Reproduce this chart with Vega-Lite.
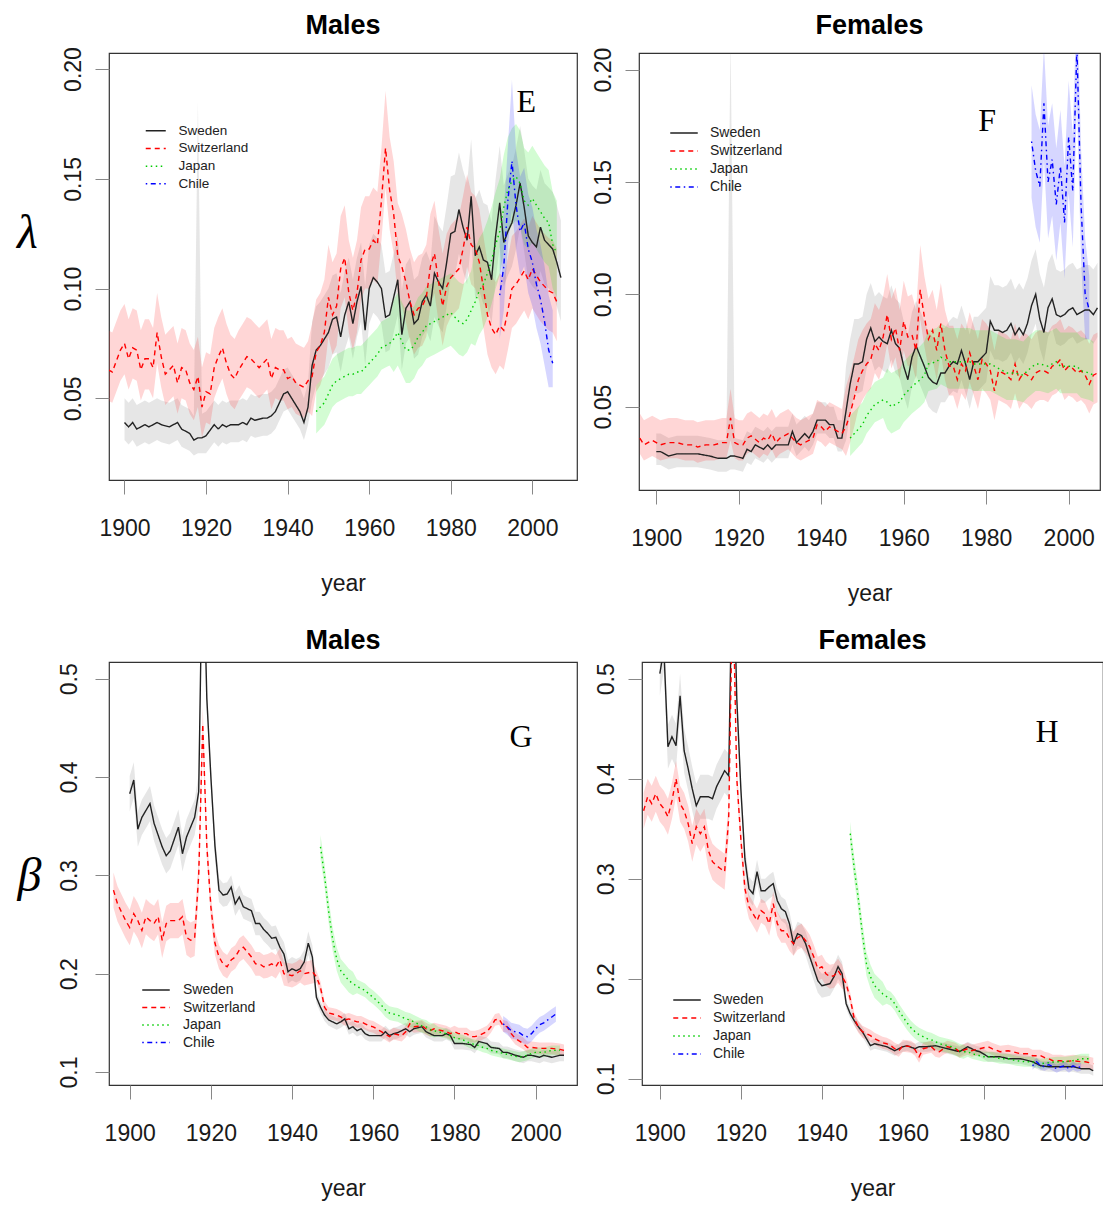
{
"$schema": "https://vega.github.io/schema/vega-lite/v6.json",
"padding": {"left": 16, "top": 11, "right": 0, "bottom": 0},
"background": "white",
"config": {
 "view": {"stroke": "#333333", "strokeWidth": 1.2},
 "font": "Liberation Sans",
 "axis": {"grid": false, "domain": false, "tickColor": "#888888", "tickSize": 14, "tickWidth": 1, "labelFont": "Liberation Sans", "labelFontSize": 23, "labelColor": "#1a1a1a", "titleFont": "Liberation Sans", "titleFontSize": 23, "titleFontWeight": "normal", "titleColor": "#1a1a1a", "labelFlush": false, "labelOverlap": false},
 "title": {"fontSize": 27, "font": "Liberation Sans", "fontWeight": "bold", "color": "black", "frame": "group", "anchor": "middle", "offset": 7},
 "legend": {"symbolFillColor": "transparent", "labelFont": "Liberation Sans", "labelColor": "#222222", "padding": 0}
},
"datasets": {
"E": [
{"c":"Sweden","t":1900,"v":0.039,"l":0.031,"h":0.050},{"c":"Sweden","t":1901,"v":0.037,"l":0.029,"h":0.048},{"c":"Sweden","t":1902,"v":0.039,"l":0.031,"h":0.050},{"c":"Sweden","t":1903,"v":0.036,"l":0.028,"h":0.047},{"c":"Sweden","t":1904,"v":0.037,"l":0.029,"h":0.048},{"c":"Sweden","t":1905,"v":0.038,"l":0.030,"h":0.049},{"c":"Sweden","t":1906,"v":0.037,"l":0.029,"h":0.048},{"c":"Sweden","t":1908,"v":0.039,"l":0.031,"h":0.050},{"c":"Sweden","t":1909,"v":0.038,"l":0.030,"h":0.049},{"c":"Sweden","t":1911,"v":0.037,"l":0.029,"h":0.048},{"c":"Sweden","t":1913,"v":0.039,"l":0.031,"h":0.050},{"c":"Sweden","t":1914,"v":0.036,"l":0.028,"h":0.047},{"c":"Sweden","t":1916,"v":0.034,"l":0.026,"h":0.045},{"c":"Sweden","t":1917,"v":0.031,"l":0.024,"h":0.042},{"c":"Sweden","t":1918,"v":0.032,"l":0.025,"h":0.185},{"c":"Sweden","t":1919,"v":0.032,"l":0.025,"h":0.043},{"c":"Sweden","t":1920,"v":0.033,"l":0.025,"h":0.044},{"c":"Sweden","t":1922,"v":0.038,"l":0.030,"h":0.049},{"c":"Sweden","t":1923,"v":0.036,"l":0.028,"h":0.047},{"c":"Sweden","t":1924,"v":0.038,"l":0.030,"h":0.049},{"c":"Sweden","t":1925,"v":0.037,"l":0.029,"h":0.048},{"c":"Sweden","t":1926,"v":0.038,"l":0.030,"h":0.049},{"c":"Sweden","t":1928,"v":0.038,"l":0.030,"h":0.049},{"c":"Sweden","t":1929,"v":0.039,"l":0.031,"h":0.050},{"c":"Sweden","t":1930,"v":0.038,"l":0.030,"h":0.049},{"c":"Sweden","t":1931,"v":0.041,"l":0.033,"h":0.052},{"c":"Sweden","t":1932,"v":0.040,"l":0.032,"h":0.051},{"c":"Sweden","t":1934,"v":0.041,"l":0.033,"h":0.052},{"c":"Sweden","t":1935,"v":0.041,"l":0.033,"h":0.052},{"c":"Sweden","t":1936,"v":0.042,"l":0.034,"h":0.053},{"c":"Sweden","t":1937,"v":0.044,"l":0.036,"h":0.055},{"c":"Sweden","t":1939,"v":0.052,"l":0.044,"h":0.063},{"c":"Sweden","t":1940,"v":0.053,"l":0.045,"h":0.064},{"c":"Sweden","t":1941,"v":0.050,"l":0.042,"h":0.061},{"c":"Sweden","t":1942,"v":0.047,"l":0.039,"h":0.058},{"c":"Sweden","t":1943,"v":0.044,"l":0.036,"h":0.055},{"c":"Sweden","t":1944,"v":0.039,"l":0.031,"h":0.050},{"c":"Sweden","t":1945,"v":0.046,"l":0.038,"h":0.057},{"c":"Sweden","t":1946,"v":0.065,"l":0.049,"h":0.085},{"c":"Sweden","t":1947,"v":0.072,"l":0.056,"h":0.092},{"c":"Sweden","t":1948,"v":0.074,"l":0.058,"h":0.094},{"c":"Sweden","t":1949,"v":0.077,"l":0.061,"h":0.097},{"c":"Sweden","t":1950,"v":0.080,"l":0.064,"h":0.100},{"c":"Sweden","t":1951,"v":0.086,"l":0.070,"h":0.106},{"c":"Sweden","t":1952,"v":0.087,"l":0.071,"h":0.107},{"c":"Sweden","t":1953,"v":0.078,"l":0.062,"h":0.098},{"c":"Sweden","t":1954,"v":0.088,"l":0.072,"h":0.108},{"c":"Sweden","t":1955,"v":0.094,"l":0.078,"h":0.114},{"c":"Sweden","t":1956,"v":0.084,"l":0.068,"h":0.104},{"c":"Sweden","t":1957,"v":0.094,"l":0.078,"h":0.114},{"c":"Sweden","t":1958,"v":0.101,"l":0.085,"h":0.121},{"c":"Sweden","t":1959,"v":0.081,"l":0.065,"h":0.101},{"c":"Sweden","t":1960,"v":0.100,"l":0.084,"h":0.120},{"c":"Sweden","t":1961,"v":0.105,"l":0.089,"h":0.125},{"c":"Sweden","t":1962,"v":0.103,"l":0.087,"h":0.123},{"c":"Sweden","t":1963,"v":0.100,"l":0.084,"h":0.120},{"c":"Sweden","t":1964,"v":0.087,"l":0.071,"h":0.107},{"c":"Sweden","t":1965,"v":0.088,"l":0.072,"h":0.108},{"c":"Sweden","t":1966,"v":0.096,"l":0.080,"h":0.116},{"c":"Sweden","t":1967,"v":0.104,"l":0.088,"h":0.124},{"c":"Sweden","t":1968,"v":0.079,"l":0.063,"h":0.099},{"c":"Sweden","t":1969,"v":0.091,"l":0.075,"h":0.111},{"c":"Sweden","t":1970,"v":0.094,"l":0.078,"h":0.114},{"c":"Sweden","t":1971,"v":0.084,"l":0.068,"h":0.104},{"c":"Sweden","t":1972,"v":0.086,"l":0.070,"h":0.106},{"c":"Sweden","t":1973,"v":0.094,"l":0.078,"h":0.114},{"c":"Sweden","t":1974,"v":0.097,"l":0.081,"h":0.117},{"c":"Sweden","t":1975,"v":0.092,"l":0.076,"h":0.112},{"c":"Sweden","t":1976,"v":0.107,"l":0.087,"h":0.133},{"c":"Sweden","t":1977,"v":0.103,"l":0.083,"h":0.129},{"c":"Sweden","t":1978,"v":0.100,"l":0.080,"h":0.126},{"c":"Sweden","t":1979,"v":0.112,"l":0.092,"h":0.138},{"c":"Sweden","t":1980,"v":0.125,"l":0.105,"h":0.151},{"c":"Sweden","t":1981,"v":0.126,"l":0.106,"h":0.152},{"c":"Sweden","t":1982,"v":0.136,"l":0.116,"h":0.162},{"c":"Sweden","t":1983,"v":0.128,"l":0.108,"h":0.154},{"c":"Sweden","t":1984,"v":0.122,"l":0.102,"h":0.148},{"c":"Sweden","t":1985,"v":0.142,"l":0.122,"h":0.168},{"c":"Sweden","t":1986,"v":0.115,"l":0.095,"h":0.141},{"c":"Sweden","t":1987,"v":0.119,"l":0.099,"h":0.145},{"c":"Sweden","t":1988,"v":0.113,"l":0.093,"h":0.139},{"c":"Sweden","t":1989,"v":0.112,"l":0.092,"h":0.138},{"c":"Sweden","t":1990,"v":0.104,"l":0.084,"h":0.130},{"c":"Sweden","t":1991,"v":0.124,"l":0.104,"h":0.150},{"c":"Sweden","t":1992,"v":0.139,"l":0.119,"h":0.165},{"c":"Sweden","t":1993,"v":0.121,"l":0.101,"h":0.147},{"c":"Sweden","t":1994,"v":0.126,"l":0.106,"h":0.152},{"c":"Sweden","t":1995,"v":0.130,"l":0.110,"h":0.156},{"c":"Sweden","t":1996,"v":0.138,"l":0.118,"h":0.164},{"c":"Sweden","t":1997,"v":0.148,"l":0.128,"h":0.174},{"c":"Sweden","t":1998,"v":0.137,"l":0.117,"h":0.163},{"c":"Sweden","t":1999,"v":0.124,"l":0.104,"h":0.150},{"c":"Sweden","t":2000,"v":0.121,"l":0.101,"h":0.147},{"c":"Sweden","t":2001,"v":0.119,"l":0.099,"h":0.145},{"c":"Sweden","t":2002,"v":0.128,"l":0.108,"h":0.154},{"c":"Sweden","t":2003,"v":0.122,"l":0.102,"h":0.148},{"c":"Sweden","t":2004,"v":0.120,"l":0.100,"h":0.146},{"c":"Sweden","t":2005,"v":0.118,"l":0.098,"h":0.144},{"c":"Sweden","t":2006,"v":0.112,"l":0.092,"h":0.138},{"c":"Sweden","t":2007,"v":0.105,"l":0.085,"h":0.131},
{"c":"Switzerland","t":1896,"v":0.063,"l":0.049,"h":0.081},{"c":"Switzerland","t":1897,"v":0.062,"l":0.048,"h":0.080},{"c":"Switzerland","t":1898,"v":0.067,"l":0.053,"h":0.085},{"c":"Switzerland","t":1899,"v":0.072,"l":0.058,"h":0.090},{"c":"Switzerland","t":1900,"v":0.075,"l":0.061,"h":0.093},{"c":"Switzerland","t":1901,"v":0.068,"l":0.054,"h":0.086},{"c":"Switzerland","t":1902,"v":0.073,"l":0.059,"h":0.091},{"c":"Switzerland","t":1903,"v":0.072,"l":0.058,"h":0.090},{"c":"Switzerland","t":1904,"v":0.063,"l":0.049,"h":0.081},{"c":"Switzerland","t":1905,"v":0.068,"l":0.054,"h":0.086},{"c":"Switzerland","t":1906,"v":0.068,"l":0.054,"h":0.086},{"c":"Switzerland","t":1907,"v":0.064,"l":0.050,"h":0.082},{"c":"Switzerland","t":1908,"v":0.080,"l":0.066,"h":0.098},{"c":"Switzerland","t":1909,"v":0.069,"l":0.055,"h":0.087},{"c":"Switzerland","t":1910,"v":0.061,"l":0.047,"h":0.079},{"c":"Switzerland","t":1911,"v":0.063,"l":0.049,"h":0.081},{"c":"Switzerland","t":1912,"v":0.065,"l":0.051,"h":0.083},{"c":"Switzerland","t":1913,"v":0.057,"l":0.043,"h":0.075},{"c":"Switzerland","t":1914,"v":0.064,"l":0.050,"h":0.082},{"c":"Switzerland","t":1915,"v":0.063,"l":0.049,"h":0.081},{"c":"Switzerland","t":1916,"v":0.057,"l":0.043,"h":0.075},{"c":"Switzerland","t":1917,"v":0.054,"l":0.040,"h":0.072},{"c":"Switzerland","t":1918,"v":0.060,"l":0.046,"h":0.078},{"c":"Switzerland","t":1919,"v":0.046,"l":0.032,"h":0.064},{"c":"Switzerland","t":1920,"v":0.053,"l":0.039,"h":0.071},{"c":"Switzerland","t":1921,"v":0.052,"l":0.038,"h":0.070},{"c":"Switzerland","t":1922,"v":0.064,"l":0.050,"h":0.082},{"c":"Switzerland","t":1923,"v":0.069,"l":0.055,"h":0.087},{"c":"Switzerland","t":1924,"v":0.073,"l":0.059,"h":0.091},{"c":"Switzerland","t":1925,"v":0.066,"l":0.052,"h":0.084},{"c":"Switzerland","t":1926,"v":0.061,"l":0.047,"h":0.079},{"c":"Switzerland","t":1927,"v":0.059,"l":0.045,"h":0.077},{"c":"Switzerland","t":1928,"v":0.063,"l":0.049,"h":0.081},{"c":"Switzerland","t":1929,"v":0.066,"l":0.052,"h":0.084},{"c":"Switzerland","t":1930,"v":0.069,"l":0.055,"h":0.087},{"c":"Switzerland","t":1931,"v":0.068,"l":0.054,"h":0.086},{"c":"Switzerland","t":1932,"v":0.066,"l":0.052,"h":0.084},{"c":"Switzerland","t":1933,"v":0.064,"l":0.050,"h":0.082},{"c":"Switzerland","t":1934,"v":0.066,"l":0.052,"h":0.084},{"c":"Switzerland","t":1935,"v":0.068,"l":0.054,"h":0.086},{"c":"Switzerland","t":1936,"v":0.059,"l":0.045,"h":0.077},{"c":"Switzerland","t":1937,"v":0.064,"l":0.050,"h":0.082},{"c":"Switzerland","t":1938,"v":0.063,"l":0.049,"h":0.081},{"c":"Switzerland","t":1939,"v":0.063,"l":0.049,"h":0.081},{"c":"Switzerland","t":1940,"v":0.059,"l":0.045,"h":0.077},{"c":"Switzerland","t":1941,"v":0.060,"l":0.046,"h":0.078},{"c":"Switzerland","t":1942,"v":0.057,"l":0.043,"h":0.075},{"c":"Switzerland","t":1943,"v":0.056,"l":0.042,"h":0.074},{"c":"Switzerland","t":1944,"v":0.055,"l":0.041,"h":0.073},{"c":"Switzerland","t":1945,"v":0.058,"l":0.044,"h":0.076},{"c":"Switzerland","t":1946,"v":0.060,"l":0.042,"h":0.084},{"c":"Switzerland","t":1947,"v":0.071,"l":0.053,"h":0.095},{"c":"Switzerland","t":1948,"v":0.074,"l":0.056,"h":0.098},{"c":"Switzerland","t":1949,"v":0.080,"l":0.062,"h":0.104},{"c":"Switzerland","t":1950,"v":0.096,"l":0.078,"h":0.120},{"c":"Switzerland","t":1951,"v":0.088,"l":0.070,"h":0.112},{"c":"Switzerland","t":1952,"v":0.092,"l":0.074,"h":0.116},{"c":"Switzerland","t":1953,"v":0.109,"l":0.091,"h":0.133},{"c":"Switzerland","t":1954,"v":0.114,"l":0.096,"h":0.138},{"c":"Switzerland","t":1955,"v":0.098,"l":0.080,"h":0.122},{"c":"Switzerland","t":1956,"v":0.090,"l":0.072,"h":0.114},{"c":"Switzerland","t":1957,"v":0.098,"l":0.080,"h":0.122},{"c":"Switzerland","t":1958,"v":0.113,"l":0.095,"h":0.137},{"c":"Switzerland","t":1959,"v":0.118,"l":0.100,"h":0.142},{"c":"Switzerland","t":1960,"v":0.118,"l":0.100,"h":0.142},{"c":"Switzerland","t":1961,"v":0.122,"l":0.104,"h":0.146},{"c":"Switzerland","t":1962,"v":0.120,"l":0.102,"h":0.144},{"c":"Switzerland","t":1963,"v":0.140,"l":0.122,"h":0.164},{"c":"Switzerland","t":1964,"v":0.164,"l":0.146,"h":0.190},{"c":"Switzerland","t":1965,"v":0.145,"l":0.127,"h":0.169},{"c":"Switzerland","t":1966,"v":0.134,"l":0.116,"h":0.158},{"c":"Switzerland","t":1967,"v":0.115,"l":0.097,"h":0.139},{"c":"Switzerland","t":1968,"v":0.110,"l":0.092,"h":0.134},{"c":"Switzerland","t":1969,"v":0.103,"l":0.085,"h":0.127},{"c":"Switzerland","t":1970,"v":0.094,"l":0.076,"h":0.118},{"c":"Switzerland","t":1971,"v":0.088,"l":0.070,"h":0.112},{"c":"Switzerland","t":1972,"v":0.091,"l":0.073,"h":0.115},{"c":"Switzerland","t":1973,"v":0.092,"l":0.074,"h":0.116},{"c":"Switzerland","t":1974,"v":0.096,"l":0.078,"h":0.120},{"c":"Switzerland","t":1975,"v":0.110,"l":0.092,"h":0.134},{"c":"Switzerland","t":1976,"v":0.116,"l":0.098,"h":0.140},{"c":"Switzerland","t":1977,"v":0.103,"l":0.085,"h":0.127},{"c":"Switzerland","t":1978,"v":0.092,"l":0.074,"h":0.116},{"c":"Switzerland","t":1979,"v":0.101,"l":0.083,"h":0.125},{"c":"Switzerland","t":1980,"v":0.105,"l":0.087,"h":0.129},{"c":"Switzerland","t":1981,"v":0.107,"l":0.089,"h":0.131},{"c":"Switzerland","t":1982,"v":0.109,"l":0.091,"h":0.133},{"c":"Switzerland","t":1983,"v":0.118,"l":0.100,"h":0.142},{"c":"Switzerland","t":1984,"v":0.128,"l":0.110,"h":0.152},{"c":"Switzerland","t":1985,"v":0.120,"l":0.102,"h":0.144},{"c":"Switzerland","t":1986,"v":0.118,"l":0.100,"h":0.142},{"c":"Switzerland","t":1987,"v":0.112,"l":0.094,"h":0.136},{"c":"Switzerland","t":1988,"v":0.100,"l":0.082,"h":0.124},{"c":"Switzerland","t":1989,"v":0.088,"l":0.070,"h":0.112},{"c":"Switzerland","t":1990,"v":0.082,"l":0.064,"h":0.106},{"c":"Switzerland","t":1991,"v":0.079,"l":0.061,"h":0.103},{"c":"Switzerland","t":1992,"v":0.083,"l":0.065,"h":0.107},{"c":"Switzerland","t":1993,"v":0.081,"l":0.063,"h":0.105},{"c":"Switzerland","t":1994,"v":0.090,"l":0.072,"h":0.114},{"c":"Switzerland","t":1995,"v":0.100,"l":0.082,"h":0.124},{"c":"Switzerland","t":1996,"v":0.102,"l":0.084,"h":0.126},{"c":"Switzerland","t":1997,"v":0.105,"l":0.087,"h":0.129},{"c":"Switzerland","t":1998,"v":0.108,"l":0.090,"h":0.132},{"c":"Switzerland","t":1999,"v":0.104,"l":0.086,"h":0.128},{"c":"Switzerland","t":2000,"v":0.109,"l":0.091,"h":0.133},{"c":"Switzerland","t":2001,"v":0.106,"l":0.088,"h":0.130},{"c":"Switzerland","t":2002,"v":0.103,"l":0.085,"h":0.127},{"c":"Switzerland","t":2003,"v":0.101,"l":0.083,"h":0.125},{"c":"Switzerland","t":2004,"v":0.099,"l":0.081,"h":0.123},{"c":"Switzerland","t":2005,"v":0.098,"l":0.080,"h":0.122},{"c":"Switzerland","t":2006,"v":0.094,"l":0.076,"h":0.118},
{"c":"Japan","t":1947,"v":0.044,"l":0.034,"h":0.056},{"c":"Japan","t":1948,"v":0.046,"l":0.036,"h":0.058},{"c":"Japan","t":1949,"v":0.048,"l":0.038,"h":0.060},{"c":"Japan","t":1950,"v":0.052,"l":0.042,"h":0.064},{"c":"Japan","t":1951,"v":0.056,"l":0.046,"h":0.068},{"c":"Japan","t":1952,"v":0.058,"l":0.048,"h":0.070},{"c":"Japan","t":1953,"v":0.059,"l":0.049,"h":0.071},{"c":"Japan","t":1954,"v":0.060,"l":0.050,"h":0.072},{"c":"Japan","t":1955,"v":0.061,"l":0.051,"h":0.073},{"c":"Japan","t":1956,"v":0.061,"l":0.051,"h":0.073},{"c":"Japan","t":1957,"v":0.062,"l":0.052,"h":0.074},{"c":"Japan","t":1958,"v":0.062,"l":0.052,"h":0.074},{"c":"Japan","t":1959,"v":0.064,"l":0.054,"h":0.076},{"c":"Japan","t":1960,"v":0.066,"l":0.056,"h":0.078},{"c":"Japan","t":1961,"v":0.068,"l":0.058,"h":0.080},{"c":"Japan","t":1962,"v":0.070,"l":0.060,"h":0.082},{"c":"Japan","t":1963,"v":0.073,"l":0.063,"h":0.085},{"c":"Japan","t":1964,"v":0.074,"l":0.064,"h":0.086},{"c":"Japan","t":1965,"v":0.075,"l":0.065,"h":0.087},{"c":"Japan","t":1966,"v":0.077,"l":0.062,"h":0.095},{"c":"Japan","t":1967,"v":0.080,"l":0.065,"h":0.098},{"c":"Japan","t":1968,"v":0.076,"l":0.061,"h":0.094},{"c":"Japan","t":1969,"v":0.072,"l":0.057,"h":0.090},{"c":"Japan","t":1970,"v":0.072,"l":0.057,"h":0.090},{"c":"Japan","t":1971,"v":0.074,"l":0.059,"h":0.092},{"c":"Japan","t":1972,"v":0.078,"l":0.063,"h":0.096},{"c":"Japan","t":1973,"v":0.080,"l":0.065,"h":0.098},{"c":"Japan","t":1974,"v":0.083,"l":0.068,"h":0.101},{"c":"Japan","t":1975,"v":0.084,"l":0.069,"h":0.102},{"c":"Japan","t":1976,"v":0.085,"l":0.070,"h":0.103},{"c":"Japan","t":1977,"v":0.086,"l":0.071,"h":0.104},{"c":"Japan","t":1978,"v":0.087,"l":0.072,"h":0.105},{"c":"Japan","t":1979,"v":0.088,"l":0.073,"h":0.106},{"c":"Japan","t":1980,"v":0.089,"l":0.074,"h":0.107},{"c":"Japan","t":1981,"v":0.087,"l":0.072,"h":0.105},{"c":"Japan","t":1982,"v":0.085,"l":0.070,"h":0.103},{"c":"Japan","t":1983,"v":0.084,"l":0.069,"h":0.102},{"c":"Japan","t":1984,"v":0.086,"l":0.071,"h":0.104},{"c":"Japan","t":1985,"v":0.090,"l":0.075,"h":0.108},{"c":"Japan","t":1986,"v":0.094,"l":0.074,"h":0.118},{"c":"Japan","t":1987,"v":0.099,"l":0.079,"h":0.123},{"c":"Japan","t":1988,"v":0.102,"l":0.082,"h":0.126},{"c":"Japan","t":1989,"v":0.107,"l":0.087,"h":0.131},{"c":"Japan","t":1990,"v":0.113,"l":0.093,"h":0.137},{"c":"Japan","t":1991,"v":0.120,"l":0.100,"h":0.144},{"c":"Japan","t":1992,"v":0.126,"l":0.106,"h":0.150},{"c":"Japan","t":1993,"v":0.137,"l":0.117,"h":0.161},{"c":"Japan","t":1994,"v":0.145,"l":0.125,"h":0.169},{"c":"Japan","t":1995,"v":0.149,"l":0.129,"h":0.173},{"c":"Japan","t":1996,"v":0.151,"l":0.131,"h":0.175},{"c":"Japan","t":1997,"v":0.148,"l":0.128,"h":0.172},{"c":"Japan","t":1998,"v":0.140,"l":0.120,"h":0.164},{"c":"Japan","t":1999,"v":0.138,"l":0.118,"h":0.162},{"c":"Japan","t":2000,"v":0.141,"l":0.121,"h":0.165},{"c":"Japan","t":2001,"v":0.138,"l":0.118,"h":0.162},{"c":"Japan","t":2002,"v":0.135,"l":0.115,"h":0.159},{"c":"Japan","t":2003,"v":0.132,"l":0.112,"h":0.156},{"c":"Japan","t":2004,"v":0.130,"l":0.110,"h":0.154},{"c":"Japan","t":2005,"v":0.120,"l":0.100,"h":0.144},{"c":"Japan","t":2006,"v":0.116,"l":0.096,"h":0.140},
{"c":"Chile","t":1992,"v":0.097,"l":0.077,"h":0.122},{"c":"Chile","t":1993,"v":0.110,"l":0.090,"h":0.135},{"c":"Chile","t":1994,"v":0.140,"l":0.120,"h":0.165},{"c":"Chile","t":1995,"v":0.158,"l":0.136,"h":0.195},{"c":"Chile","t":1996,"v":0.138,"l":0.118,"h":0.163},{"c":"Chile","t":1997,"v":0.126,"l":0.106,"h":0.151},{"c":"Chile","t":1998,"v":0.130,"l":0.110,"h":0.155},{"c":"Chile","t":1999,"v":0.118,"l":0.098,"h":0.143},{"c":"Chile","t":2000,"v":0.112,"l":0.092,"h":0.137},{"c":"Chile","t":2001,"v":0.102,"l":0.082,"h":0.127},{"c":"Chile","t":2002,"v":0.095,"l":0.075,"h":0.120},{"c":"Chile","t":2003,"v":0.085,"l":0.065,"h":0.110},{"c":"Chile","t":2004,"v":0.072,"l":0.055,"h":0.097},{"c":"Chile","t":2005,"v":0.066,"l":0.055,"h":0.090}
],
"F": [
{"c":"Sweden","t":1900,"v":0.030,"l":0.024,"h":0.038},{"c":"Sweden","t":1901,"v":0.030,"l":0.024,"h":0.038},{"c":"Sweden","t":1903,"v":0.028,"l":0.022,"h":0.036},{"c":"Sweden","t":1905,"v":0.029,"l":0.023,"h":0.037},{"c":"Sweden","t":1908,"v":0.029,"l":0.023,"h":0.037},{"c":"Sweden","t":1910,"v":0.029,"l":0.023,"h":0.037},{"c":"Sweden","t":1913,"v":0.028,"l":0.022,"h":0.036},{"c":"Sweden","t":1915,"v":0.027,"l":0.021,"h":0.035},{"c":"Sweden","t":1917,"v":0.027,"l":0.021,"h":0.035},{"c":"Sweden","t":1918,"v":0.028,"l":0.022,"h":0.215},{"c":"Sweden","t":1919,"v":0.028,"l":0.022,"h":0.036},{"c":"Sweden","t":1921,"v":0.027,"l":0.021,"h":0.035},{"c":"Sweden","t":1922,"v":0.031,"l":0.025,"h":0.039},{"c":"Sweden","t":1923,"v":0.030,"l":0.024,"h":0.038},{"c":"Sweden","t":1924,"v":0.033,"l":0.027,"h":0.041},{"c":"Sweden","t":1926,"v":0.031,"l":0.025,"h":0.039},{"c":"Sweden","t":1927,"v":0.033,"l":0.027,"h":0.041},{"c":"Sweden","t":1928,"v":0.031,"l":0.025,"h":0.039},{"c":"Sweden","t":1929,"v":0.033,"l":0.027,"h":0.041},{"c":"Sweden","t":1930,"v":0.033,"l":0.027,"h":0.041},{"c":"Sweden","t":1932,"v":0.033,"l":0.027,"h":0.041},{"c":"Sweden","t":1933,"v":0.039,"l":0.033,"h":0.047},{"c":"Sweden","t":1934,"v":0.034,"l":0.028,"h":0.042},{"c":"Sweden","t":1935,"v":0.036,"l":0.030,"h":0.044},{"c":"Sweden","t":1936,"v":0.038,"l":0.032,"h":0.046},{"c":"Sweden","t":1937,"v":0.036,"l":0.030,"h":0.044},{"c":"Sweden","t":1938,"v":0.039,"l":0.033,"h":0.047},{"c":"Sweden","t":1939,"v":0.044,"l":0.038,"h":0.052},{"c":"Sweden","t":1941,"v":0.044,"l":0.038,"h":0.052},{"c":"Sweden","t":1942,"v":0.042,"l":0.036,"h":0.050},{"c":"Sweden","t":1943,"v":0.042,"l":0.036,"h":0.050},{"c":"Sweden","t":1944,"v":0.036,"l":0.030,"h":0.044},{"c":"Sweden","t":1945,"v":0.036,"l":0.030,"h":0.044},{"c":"Sweden","t":1946,"v":0.048,"l":0.035,"h":0.068},{"c":"Sweden","t":1947,"v":0.060,"l":0.047,"h":0.080},{"c":"Sweden","t":1948,"v":0.069,"l":0.056,"h":0.089},{"c":"Sweden","t":1949,"v":0.069,"l":0.056,"h":0.089},{"c":"Sweden","t":1950,"v":0.070,"l":0.057,"h":0.090},{"c":"Sweden","t":1951,"v":0.080,"l":0.067,"h":0.100},{"c":"Sweden","t":1952,"v":0.085,"l":0.072,"h":0.105},{"c":"Sweden","t":1953,"v":0.079,"l":0.066,"h":0.099},{"c":"Sweden","t":1954,"v":0.081,"l":0.068,"h":0.101},{"c":"Sweden","t":1955,"v":0.079,"l":0.066,"h":0.099},{"c":"Sweden","t":1956,"v":0.078,"l":0.065,"h":0.098},{"c":"Sweden","t":1957,"v":0.084,"l":0.071,"h":0.104},{"c":"Sweden","t":1958,"v":0.078,"l":0.065,"h":0.098},{"c":"Sweden","t":1959,"v":0.076,"l":0.063,"h":0.096},{"c":"Sweden","t":1960,"v":0.068,"l":0.055,"h":0.088},{"c":"Sweden","t":1961,"v":0.062,"l":0.049,"h":0.082},{"c":"Sweden","t":1962,"v":0.072,"l":0.059,"h":0.092},{"c":"Sweden","t":1963,"v":0.077,"l":0.064,"h":0.097},{"c":"Sweden","t":1965,"v":0.068,"l":0.055,"h":0.088},{"c":"Sweden","t":1966,"v":0.063,"l":0.050,"h":0.083},{"c":"Sweden","t":1967,"v":0.061,"l":0.048,"h":0.081},{"c":"Sweden","t":1968,"v":0.060,"l":0.047,"h":0.080},{"c":"Sweden","t":1969,"v":0.065,"l":0.052,"h":0.085},{"c":"Sweden","t":1970,"v":0.065,"l":0.052,"h":0.085},{"c":"Sweden","t":1971,"v":0.068,"l":0.055,"h":0.088},{"c":"Sweden","t":1972,"v":0.070,"l":0.057,"h":0.090},{"c":"Sweden","t":1973,"v":0.069,"l":0.056,"h":0.089},{"c":"Sweden","t":1974,"v":0.075,"l":0.062,"h":0.095},{"c":"Sweden","t":1975,"v":0.069,"l":0.056,"h":0.089},{"c":"Sweden","t":1976,"v":0.062,"l":0.049,"h":0.082},{"c":"Sweden","t":1977,"v":0.070,"l":0.057,"h":0.090},{"c":"Sweden","t":1978,"v":0.070,"l":0.057,"h":0.090},{"c":"Sweden","t":1979,"v":0.072,"l":0.059,"h":0.092},{"c":"Sweden","t":1980,"v":0.074,"l":0.061,"h":0.094},{"c":"Sweden","t":1981,"v":0.088,"l":0.075,"h":0.108},{"c":"Sweden","t":1982,"v":0.084,"l":0.071,"h":0.104},{"c":"Sweden","t":1983,"v":0.084,"l":0.071,"h":0.104},{"c":"Sweden","t":1984,"v":0.083,"l":0.070,"h":0.103},{"c":"Sweden","t":1985,"v":0.084,"l":0.071,"h":0.104},{"c":"Sweden","t":1986,"v":0.087,"l":0.074,"h":0.107},{"c":"Sweden","t":1987,"v":0.082,"l":0.069,"h":0.102},{"c":"Sweden","t":1988,"v":0.085,"l":0.072,"h":0.105},{"c":"Sweden","t":1989,"v":0.082,"l":0.069,"h":0.102},{"c":"Sweden","t":1990,"v":0.087,"l":0.074,"h":0.107},{"c":"Sweden","t":1991,"v":0.095,"l":0.082,"h":0.115},{"c":"Sweden","t":1992,"v":0.100,"l":0.087,"h":0.120},{"c":"Sweden","t":1993,"v":0.089,"l":0.076,"h":0.109},{"c":"Sweden","t":1994,"v":0.083,"l":0.070,"h":0.103},{"c":"Sweden","t":1995,"v":0.094,"l":0.081,"h":0.114},{"c":"Sweden","t":1996,"v":0.098,"l":0.085,"h":0.118},{"c":"Sweden","t":1997,"v":0.091,"l":0.078,"h":0.111},{"c":"Sweden","t":1998,"v":0.090,"l":0.077,"h":0.110},{"c":"Sweden","t":1999,"v":0.091,"l":0.078,"h":0.111},{"c":"Sweden","t":2000,"v":0.093,"l":0.080,"h":0.113},{"c":"Sweden","t":2001,"v":0.094,"l":0.081,"h":0.114},{"c":"Sweden","t":2002,"v":0.091,"l":0.078,"h":0.111},{"c":"Sweden","t":2003,"v":0.092,"l":0.079,"h":0.112},{"c":"Sweden","t":2004,"v":0.093,"l":0.080,"h":0.113},{"c":"Sweden","t":2005,"v":0.093,"l":0.080,"h":0.113},{"c":"Sweden","t":2006,"v":0.091,"l":0.078,"h":0.111},{"c":"Sweden","t":2007,"v":0.094,"l":0.081,"h":0.114},
{"c":"Switzerland","t":1896,"v":0.036,"l":0.029,"h":0.047},{"c":"Switzerland","t":1897,"v":0.033,"l":0.026,"h":0.044},{"c":"Switzerland","t":1899,"v":0.035,"l":0.028,"h":0.046},{"c":"Switzerland","t":1901,"v":0.033,"l":0.026,"h":0.044},{"c":"Switzerland","t":1903,"v":0.034,"l":0.027,"h":0.045},{"c":"Switzerland","t":1905,"v":0.034,"l":0.027,"h":0.045},{"c":"Switzerland","t":1907,"v":0.033,"l":0.026,"h":0.044},{"c":"Switzerland","t":1909,"v":0.033,"l":0.026,"h":0.044},{"c":"Switzerland","t":1910,"v":0.032,"l":0.025,"h":0.043},{"c":"Switzerland","t":1912,"v":0.033,"l":0.026,"h":0.044},{"c":"Switzerland","t":1914,"v":0.033,"l":0.026,"h":0.044},{"c":"Switzerland","t":1916,"v":0.034,"l":0.027,"h":0.045},{"c":"Switzerland","t":1917,"v":0.034,"l":0.027,"h":0.045},{"c":"Switzerland","t":1918,"v":0.045,"l":0.035,"h":0.058},{"c":"Switzerland","t":1919,"v":0.034,"l":0.027,"h":0.045},{"c":"Switzerland","t":1920,"v":0.033,"l":0.026,"h":0.044},{"c":"Switzerland","t":1921,"v":0.033,"l":0.026,"h":0.044},{"c":"Switzerland","t":1922,"v":0.036,"l":0.029,"h":0.047},{"c":"Switzerland","t":1923,"v":0.037,"l":0.030,"h":0.048},{"c":"Switzerland","t":1925,"v":0.034,"l":0.027,"h":0.045},{"c":"Switzerland","t":1926,"v":0.036,"l":0.029,"h":0.047},{"c":"Switzerland","t":1927,"v":0.035,"l":0.028,"h":0.046},{"c":"Switzerland","t":1928,"v":0.038,"l":0.031,"h":0.049},{"c":"Switzerland","t":1929,"v":0.034,"l":0.027,"h":0.045},{"c":"Switzerland","t":1930,"v":0.036,"l":0.029,"h":0.047},{"c":"Switzerland","t":1932,"v":0.038,"l":0.031,"h":0.049},{"c":"Switzerland","t":1933,"v":0.036,"l":0.029,"h":0.047},{"c":"Switzerland","t":1934,"v":0.034,"l":0.027,"h":0.045},{"c":"Switzerland","t":1935,"v":0.033,"l":0.026,"h":0.044},{"c":"Switzerland","t":1937,"v":0.035,"l":0.028,"h":0.046},{"c":"Switzerland","t":1938,"v":0.036,"l":0.029,"h":0.047},{"c":"Switzerland","t":1939,"v":0.042,"l":0.035,"h":0.053},{"c":"Switzerland","t":1940,"v":0.041,"l":0.034,"h":0.052},{"c":"Switzerland","t":1941,"v":0.039,"l":0.032,"h":0.050},{"c":"Switzerland","t":1942,"v":0.041,"l":0.034,"h":0.052},{"c":"Switzerland","t":1943,"v":0.040,"l":0.033,"h":0.051},{"c":"Switzerland","t":1944,"v":0.039,"l":0.032,"h":0.050},{"c":"Switzerland","t":1945,"v":0.038,"l":0.031,"h":0.049},{"c":"Switzerland","t":1946,"v":0.041,"l":0.028,"h":0.059},{"c":"Switzerland","t":1947,"v":0.047,"l":0.034,"h":0.065},{"c":"Switzerland","t":1948,"v":0.054,"l":0.041,"h":0.072},{"c":"Switzerland","t":1949,"v":0.062,"l":0.049,"h":0.080},{"c":"Switzerland","t":1950,"v":0.066,"l":0.053,"h":0.084},{"c":"Switzerland","t":1951,"v":0.069,"l":0.056,"h":0.087},{"c":"Switzerland","t":1952,"v":0.071,"l":0.058,"h":0.089},{"c":"Switzerland","t":1953,"v":0.078,"l":0.065,"h":0.096},{"c":"Switzerland","t":1954,"v":0.075,"l":0.062,"h":0.093},{"c":"Switzerland","t":1955,"v":0.081,"l":0.068,"h":0.099},{"c":"Switzerland","t":1956,"v":0.091,"l":0.078,"h":0.109},{"c":"Switzerland","t":1957,"v":0.080,"l":0.067,"h":0.098},{"c":"Switzerland","t":1958,"v":0.085,"l":0.072,"h":0.103},{"c":"Switzerland","t":1959,"v":0.075,"l":0.062,"h":0.093},{"c":"Switzerland","t":1960,"v":0.088,"l":0.075,"h":0.106},{"c":"Switzerland","t":1961,"v":0.081,"l":0.068,"h":0.099},{"c":"Switzerland","t":1962,"v":0.082,"l":0.069,"h":0.100},{"c":"Switzerland","t":1963,"v":0.075,"l":0.062,"h":0.093},{"c":"Switzerland","t":1964,"v":0.102,"l":0.089,"h":0.122},{"c":"Switzerland","t":1965,"v":0.090,"l":0.077,"h":0.108},{"c":"Switzerland","t":1966,"v":0.080,"l":0.067,"h":0.098},{"c":"Switzerland","t":1967,"v":0.084,"l":0.071,"h":0.102},{"c":"Switzerland","t":1968,"v":0.075,"l":0.062,"h":0.093},{"c":"Switzerland","t":1969,"v":0.087,"l":0.074,"h":0.105},{"c":"Switzerland","t":1970,"v":0.075,"l":0.062,"h":0.093},{"c":"Switzerland","t":1971,"v":0.068,"l":0.055,"h":0.086},{"c":"Switzerland","t":1972,"v":0.068,"l":0.055,"h":0.086},{"c":"Switzerland","t":1973,"v":0.062,"l":0.049,"h":0.080},{"c":"Switzerland","t":1974,"v":0.069,"l":0.056,"h":0.087},{"c":"Switzerland","t":1975,"v":0.066,"l":0.053,"h":0.084},{"c":"Switzerland","t":1976,"v":0.074,"l":0.061,"h":0.092},{"c":"Switzerland","t":1977,"v":0.068,"l":0.055,"h":0.086},{"c":"Switzerland","t":1978,"v":0.062,"l":0.049,"h":0.080},{"c":"Switzerland","t":1979,"v":0.071,"l":0.058,"h":0.089},{"c":"Switzerland","t":1980,"v":0.069,"l":0.056,"h":0.087},{"c":"Switzerland","t":1981,"v":0.066,"l":0.053,"h":0.084},{"c":"Switzerland","t":1982,"v":0.057,"l":0.044,"h":0.075},{"c":"Switzerland","t":1983,"v":0.066,"l":0.053,"h":0.084},{"c":"Switzerland","t":1984,"v":0.065,"l":0.052,"h":0.083},{"c":"Switzerland","t":1985,"v":0.064,"l":0.051,"h":0.082},{"c":"Switzerland","t":1986,"v":0.062,"l":0.049,"h":0.080},{"c":"Switzerland","t":1987,"v":0.069,"l":0.056,"h":0.087},{"c":"Switzerland","t":1988,"v":0.062,"l":0.049,"h":0.080},{"c":"Switzerland","t":1989,"v":0.065,"l":0.052,"h":0.083},{"c":"Switzerland","t":1990,"v":0.064,"l":0.051,"h":0.082},{"c":"Switzerland","t":1991,"v":0.062,"l":0.049,"h":0.080},{"c":"Switzerland","t":1992,"v":0.065,"l":0.052,"h":0.083},{"c":"Switzerland","t":1993,"v":0.066,"l":0.053,"h":0.084},{"c":"Switzerland","t":1994,"v":0.066,"l":0.053,"h":0.084},{"c":"Switzerland","t":1995,"v":0.065,"l":0.052,"h":0.083},{"c":"Switzerland","t":1996,"v":0.068,"l":0.055,"h":0.086},{"c":"Switzerland","t":1997,"v":0.069,"l":0.056,"h":0.087},{"c":"Switzerland","t":1998,"v":0.071,"l":0.058,"h":0.089},{"c":"Switzerland","t":1999,"v":0.066,"l":0.053,"h":0.084},{"c":"Switzerland","t":2000,"v":0.068,"l":0.055,"h":0.086},{"c":"Switzerland","t":2001,"v":0.067,"l":0.054,"h":0.085},{"c":"Switzerland","t":2002,"v":0.065,"l":0.052,"h":0.083},{"c":"Switzerland","t":2003,"v":0.066,"l":0.053,"h":0.084},{"c":"Switzerland","t":2004,"v":0.064,"l":0.051,"h":0.082},{"c":"Switzerland","t":2005,"v":0.060,"l":0.047,"h":0.078},{"c":"Switzerland","t":2006,"v":0.064,"l":0.051,"h":0.082},{"c":"Switzerland","t":2007,"v":0.065,"l":0.052,"h":0.083},
{"c":"Japan","t":1947,"v":0.036,"l":0.028,"h":0.046},{"c":"Japan","t":1948,"v":0.038,"l":0.030,"h":0.048},{"c":"Japan","t":1950,"v":0.042,"l":0.034,"h":0.052},{"c":"Japan","t":1951,"v":0.046,"l":0.038,"h":0.056},{"c":"Japan","t":1953,"v":0.051,"l":0.043,"h":0.061},{"c":"Japan","t":1955,"v":0.053,"l":0.045,"h":0.063},{"c":"Japan","t":1956,"v":0.052,"l":0.040,"h":0.067},{"c":"Japan","t":1957,"v":0.050,"l":0.038,"h":0.065},{"c":"Japan","t":1959,"v":0.052,"l":0.040,"h":0.067},{"c":"Japan","t":1960,"v":0.055,"l":0.043,"h":0.070},{"c":"Japan","t":1962,"v":0.059,"l":0.047,"h":0.074},{"c":"Japan","t":1964,"v":0.062,"l":0.050,"h":0.077},{"c":"Japan","t":1965,"v":0.064,"l":0.052,"h":0.079},{"c":"Japan","t":1966,"v":0.069,"l":0.057,"h":0.084},{"c":"Japan","t":1968,"v":0.070,"l":0.058,"h":0.085},{"c":"Japan","t":1969,"v":0.072,"l":0.060,"h":0.087},{"c":"Japan","t":1971,"v":0.070,"l":0.058,"h":0.085},{"c":"Japan","t":1973,"v":0.070,"l":0.058,"h":0.085},{"c":"Japan","t":1974,"v":0.070,"l":0.058,"h":0.085},{"c":"Japan","t":1976,"v":0.070,"l":0.058,"h":0.085},{"c":"Japan","t":1977,"v":0.069,"l":0.057,"h":0.084},{"c":"Japan","t":1979,"v":0.069,"l":0.057,"h":0.084},{"c":"Japan","t":1981,"v":0.069,"l":0.057,"h":0.084},{"c":"Japan","t":1982,"v":0.068,"l":0.056,"h":0.083},{"c":"Japan","t":1984,"v":0.066,"l":0.054,"h":0.081},{"c":"Japan","t":1985,"v":0.065,"l":0.053,"h":0.080},{"c":"Japan","t":1987,"v":0.065,"l":0.053,"h":0.080},{"c":"Japan","t":1989,"v":0.064,"l":0.052,"h":0.079},{"c":"Japan","t":1990,"v":0.066,"l":0.054,"h":0.081},{"c":"Japan","t":1992,"v":0.069,"l":0.057,"h":0.084},{"c":"Japan","t":1993,"v":0.069,"l":0.057,"h":0.084},{"c":"Japan","t":1995,"v":0.068,"l":0.056,"h":0.083},{"c":"Japan","t":1997,"v":0.070,"l":0.058,"h":0.085},{"c":"Japan","t":1998,"v":0.068,"l":0.056,"h":0.083},{"c":"Japan","t":2000,"v":0.068,"l":0.056,"h":0.083},{"c":"Japan","t":2002,"v":0.068,"l":0.056,"h":0.083},{"c":"Japan","t":2003,"v":0.066,"l":0.054,"h":0.081},{"c":"Japan","t":2005,"v":0.065,"l":0.053,"h":0.080},{"c":"Japan","t":2006,"v":0.064,"l":0.052,"h":0.079},
{"c":"Chile","t":1991,"v":0.168,"l":0.143,"h":0.193},{"c":"Chile","t":1992,"v":0.155,"l":0.130,"h":0.180},{"c":"Chile","t":1993,"v":0.148,"l":0.123,"h":0.173},{"c":"Chile","t":1994,"v":0.185,"l":0.160,"h":0.210},{"c":"Chile","t":1995,"v":0.150,"l":0.125,"h":0.175},{"c":"Chile","t":1996,"v":0.160,"l":0.135,"h":0.185},{"c":"Chile","t":1997,"v":0.140,"l":0.115,"h":0.165},{"c":"Chile","t":1998,"v":0.157,"l":0.132,"h":0.182},{"c":"Chile","t":1999,"v":0.132,"l":0.107,"h":0.157},{"c":"Chile","t":2000,"v":0.170,"l":0.145,"h":0.195},{"c":"Chile","t":2001,"v":0.146,"l":0.121,"h":0.171},{"c":"Chile","t":2002,"v":0.210,"l":0.185,"h":0.235},{"c":"Chile","t":2003,"v":0.140,"l":0.115,"h":0.165},{"c":"Chile","t":2004,"v":0.100,"l":0.080,"h":0.125},{"c":"Chile","t":2005,"v":0.093,"l":0.080,"h":0.108}
],
"G": [
{"c":"Sweden","t":1900,"v":0.383,"l":0.365,"h":0.401},{"c":"Sweden","t":1901,"v":0.397,"l":0.379,"h":0.415},{"c":"Sweden","t":1902,"v":0.347,"l":0.329,"h":0.365},{"c":"Sweden","t":1903,"v":0.359,"l":0.341,"h":0.377},{"c":"Sweden","t":1905,"v":0.373,"l":0.355,"h":0.391},{"c":"Sweden","t":1906,"v":0.353,"l":0.335,"h":0.371},{"c":"Sweden","t":1908,"v":0.329,"l":0.311,"h":0.347},{"c":"Sweden","t":1909,"v":0.320,"l":0.302,"h":0.338},{"c":"Sweden","t":1910,"v":0.325,"l":0.307,"h":0.343},{"c":"Sweden","t":1912,"v":0.349,"l":0.331,"h":0.367},{"c":"Sweden","t":1913,"v":0.322,"l":0.304,"h":0.340},{"c":"Sweden","t":1914,"v":0.339,"l":0.321,"h":0.357},{"c":"Sweden","t":1916,"v":0.359,"l":0.341,"h":0.377},{"c":"Sweden","t":1917,"v":0.385,"l":0.367,"h":0.403},{"c":"Sweden","t":1918,"v":0.650,"l":0.620,"h":0.680},{"c":"Sweden","t":1919,"v":0.480,"l":0.468,"h":0.492},{"c":"Sweden","t":1920,"v":0.400,"l":0.388,"h":0.412},{"c":"Sweden","t":1921,"v":0.330,"l":0.318,"h":0.342},{"c":"Sweden","t":1922,"v":0.285,"l":0.273,"h":0.297},{"c":"Sweden","t":1923,"v":0.280,"l":0.268,"h":0.292},{"c":"Sweden","t":1924,"v":0.281,"l":0.269,"h":0.293},{"c":"Sweden","t":1925,"v":0.288,"l":0.276,"h":0.300},{"c":"Sweden","t":1926,"v":0.271,"l":0.259,"h":0.283},{"c":"Sweden","t":1927,"v":0.278,"l":0.266,"h":0.290},{"c":"Sweden","t":1928,"v":0.268,"l":0.256,"h":0.280},{"c":"Sweden","t":1930,"v":0.264,"l":0.252,"h":0.276},{"c":"Sweden","t":1931,"v":0.251,"l":0.239,"h":0.263},{"c":"Sweden","t":1932,"v":0.251,"l":0.239,"h":0.263},{"c":"Sweden","t":1933,"v":0.245,"l":0.233,"h":0.257},{"c":"Sweden","t":1934,"v":0.241,"l":0.229,"h":0.253},{"c":"Sweden","t":1935,"v":0.236,"l":0.224,"h":0.248},{"c":"Sweden","t":1936,"v":0.237,"l":0.225,"h":0.249},{"c":"Sweden","t":1937,"v":0.227,"l":0.215,"h":0.239},{"c":"Sweden","t":1938,"v":0.220,"l":0.208,"h":0.232},{"c":"Sweden","t":1939,"v":0.202,"l":0.190,"h":0.214},{"c":"Sweden","t":1940,"v":0.205,"l":0.193,"h":0.217},{"c":"Sweden","t":1941,"v":0.203,"l":0.191,"h":0.215},{"c":"Sweden","t":1942,"v":0.205,"l":0.193,"h":0.217},{"c":"Sweden","t":1943,"v":0.212,"l":0.200,"h":0.224},{"c":"Sweden","t":1944,"v":0.231,"l":0.219,"h":0.243},{"c":"Sweden","t":1945,"v":0.217,"l":0.205,"h":0.229},{"c":"Sweden","t":1946,"v":0.176,"l":0.170,"h":0.182},{"c":"Sweden","t":1947,"v":0.166,"l":0.160,"h":0.172},{"c":"Sweden","t":1948,"v":0.158,"l":0.152,"h":0.164},{"c":"Sweden","t":1949,"v":0.153,"l":0.147,"h":0.159},{"c":"Sweden","t":1950,"v":0.151,"l":0.145,"h":0.157},{"c":"Sweden","t":1951,"v":0.149,"l":0.143,"h":0.155},{"c":"Sweden","t":1952,"v":0.151,"l":0.145,"h":0.157},{"c":"Sweden","t":1953,"v":0.154,"l":0.148,"h":0.160},{"c":"Sweden","t":1954,"v":0.144,"l":0.138,"h":0.150},{"c":"Sweden","t":1955,"v":0.146,"l":0.140,"h":0.152},{"c":"Sweden","t":1956,"v":0.142,"l":0.136,"h":0.148},{"c":"Sweden","t":1957,"v":0.144,"l":0.138,"h":0.150},{"c":"Sweden","t":1958,"v":0.139,"l":0.133,"h":0.145},{"c":"Sweden","t":1959,"v":0.137,"l":0.131,"h":0.143},{"c":"Sweden","t":1960,"v":0.137,"l":0.131,"h":0.143},{"c":"Sweden","t":1961,"v":0.137,"l":0.131,"h":0.143},{"c":"Sweden","t":1962,"v":0.137,"l":0.131,"h":0.143},{"c":"Sweden","t":1963,"v":0.141,"l":0.135,"h":0.147},{"c":"Sweden","t":1964,"v":0.137,"l":0.131,"h":0.143},{"c":"Sweden","t":1965,"v":0.139,"l":0.133,"h":0.145},{"c":"Sweden","t":1966,"v":0.140,"l":0.134,"h":0.146},{"c":"Sweden","t":1967,"v":0.142,"l":0.136,"h":0.148},{"c":"Sweden","t":1968,"v":0.144,"l":0.138,"h":0.150},{"c":"Sweden","t":1969,"v":0.141,"l":0.135,"h":0.147},{"c":"Sweden","t":1970,"v":0.144,"l":0.138,"h":0.150},{"c":"Sweden","t":1971,"v":0.145,"l":0.139,"h":0.151},{"c":"Sweden","t":1972,"v":0.146,"l":0.140,"h":0.152},{"c":"Sweden","t":1973,"v":0.141,"l":0.135,"h":0.147},{"c":"Sweden","t":1974,"v":0.139,"l":0.133,"h":0.145},{"c":"Sweden","t":1975,"v":0.137,"l":0.131,"h":0.143},{"c":"Sweden","t":1976,"v":0.137,"l":0.131,"h":0.143},{"c":"Sweden","t":1977,"v":0.137,"l":0.131,"h":0.143},{"c":"Sweden","t":1978,"v":0.139,"l":0.133,"h":0.145},{"c":"Sweden","t":1979,"v":0.137,"l":0.131,"h":0.143},{"c":"Sweden","t":1980,"v":0.129,"l":0.123,"h":0.135},{"c":"Sweden","t":1982,"v":0.129,"l":0.123,"h":0.135},{"c":"Sweden","t":1984,"v":0.128,"l":0.122,"h":0.134},{"c":"Sweden","t":1985,"v":0.125,"l":0.119,"h":0.131},{"c":"Sweden","t":1986,"v":0.131,"l":0.125,"h":0.137},{"c":"Sweden","t":1988,"v":0.129,"l":0.123,"h":0.135},{"c":"Sweden","t":1989,"v":0.125,"l":0.119,"h":0.131},{"c":"Sweden","t":1991,"v":0.124,"l":0.118,"h":0.130},{"c":"Sweden","t":1992,"v":0.120,"l":0.114,"h":0.126},{"c":"Sweden","t":1993,"v":0.120,"l":0.114,"h":0.126},{"c":"Sweden","t":1995,"v":0.117,"l":0.111,"h":0.123},{"c":"Sweden","t":1997,"v":0.115,"l":0.109,"h":0.121},{"c":"Sweden","t":1998,"v":0.117,"l":0.111,"h":0.123},{"c":"Sweden","t":1999,"v":0.117,"l":0.111,"h":0.123},{"c":"Sweden","t":2001,"v":0.115,"l":0.109,"h":0.121},{"c":"Sweden","t":2002,"v":0.117,"l":0.111,"h":0.123},{"c":"Sweden","t":2004,"v":0.115,"l":0.109,"h":0.121},{"c":"Sweden","t":2006,"v":0.117,"l":0.111,"h":0.123},{"c":"Sweden","t":2007,"v":0.117,"l":0.111,"h":0.123},
{"c":"Switzerland","t":1896,"v":0.285,"l":0.267,"h":0.303},{"c":"Switzerland","t":1897,"v":0.271,"l":0.253,"h":0.289},{"c":"Switzerland","t":1899,"v":0.254,"l":0.236,"h":0.272},{"c":"Switzerland","t":1900,"v":0.247,"l":0.229,"h":0.265},{"c":"Switzerland","t":1901,"v":0.261,"l":0.243,"h":0.279},{"c":"Switzerland","t":1902,"v":0.254,"l":0.236,"h":0.272},{"c":"Switzerland","t":1903,"v":0.244,"l":0.226,"h":0.262},{"c":"Switzerland","t":1904,"v":0.258,"l":0.240,"h":0.276},{"c":"Switzerland","t":1905,"v":0.254,"l":0.236,"h":0.272},{"c":"Switzerland","t":1906,"v":0.251,"l":0.233,"h":0.269},{"c":"Switzerland","t":1907,"v":0.258,"l":0.240,"h":0.276},{"c":"Switzerland","t":1908,"v":0.234,"l":0.216,"h":0.252},{"c":"Switzerland","t":1909,"v":0.251,"l":0.233,"h":0.269},{"c":"Switzerland","t":1910,"v":0.254,"l":0.236,"h":0.272},{"c":"Switzerland","t":1912,"v":0.254,"l":0.236,"h":0.272},{"c":"Switzerland","t":1913,"v":0.258,"l":0.240,"h":0.276},{"c":"Switzerland","t":1914,"v":0.237,"l":0.219,"h":0.255},{"c":"Switzerland","t":1915,"v":0.234,"l":0.216,"h":0.252},{"c":"Switzerland","t":1916,"v":0.236,"l":0.218,"h":0.254},{"c":"Switzerland","t":1917,"v":0.300,"l":0.282,"h":0.318},{"c":"Switzerland","t":1918,"v":0.454,"l":0.436,"h":0.472},{"c":"Switzerland","t":1919,"v":0.330,"l":0.318,"h":0.342},{"c":"Switzerland","t":1920,"v":0.268,"l":0.256,"h":0.280},{"c":"Switzerland","t":1921,"v":0.231,"l":0.219,"h":0.243},{"c":"Switzerland","t":1922,"v":0.217,"l":0.205,"h":0.229},{"c":"Switzerland","t":1923,"v":0.210,"l":0.198,"h":0.222},{"c":"Switzerland","t":1924,"v":0.207,"l":0.195,"h":0.219},{"c":"Switzerland","t":1925,"v":0.214,"l":0.202,"h":0.226},{"c":"Switzerland","t":1926,"v":0.217,"l":0.205,"h":0.229},{"c":"Switzerland","t":1927,"v":0.224,"l":0.212,"h":0.236},{"c":"Switzerland","t":1928,"v":0.227,"l":0.215,"h":0.239},{"c":"Switzerland","t":1929,"v":0.222,"l":0.210,"h":0.234},{"c":"Switzerland","t":1930,"v":0.217,"l":0.205,"h":0.229},{"c":"Switzerland","t":1931,"v":0.210,"l":0.198,"h":0.222},{"c":"Switzerland","t":1932,"v":0.210,"l":0.198,"h":0.222},{"c":"Switzerland","t":1933,"v":0.207,"l":0.195,"h":0.219},{"c":"Switzerland","t":1934,"v":0.208,"l":0.196,"h":0.220},{"c":"Switzerland","t":1935,"v":0.210,"l":0.198,"h":0.222},{"c":"Switzerland","t":1936,"v":0.207,"l":0.195,"h":0.219},{"c":"Switzerland","t":1937,"v":0.214,"l":0.202,"h":0.226},{"c":"Switzerland","t":1938,"v":0.200,"l":0.188,"h":0.212},{"c":"Switzerland","t":1939,"v":0.199,"l":0.187,"h":0.211},{"c":"Switzerland","t":1940,"v":0.198,"l":0.186,"h":0.210},{"c":"Switzerland","t":1941,"v":0.200,"l":0.188,"h":0.212},{"c":"Switzerland","t":1942,"v":0.203,"l":0.191,"h":0.215},{"c":"Switzerland","t":1943,"v":0.200,"l":0.188,"h":0.212},{"c":"Switzerland","t":1944,"v":0.201,"l":0.189,"h":0.213},{"c":"Switzerland","t":1945,"v":0.202,"l":0.190,"h":0.214},{"c":"Switzerland","t":1946,"v":0.197,"l":0.191,"h":0.203},{"c":"Switzerland","t":1947,"v":0.186,"l":0.180,"h":0.192},{"c":"Switzerland","t":1948,"v":0.166,"l":0.160,"h":0.172},{"c":"Switzerland","t":1949,"v":0.160,"l":0.154,"h":0.166},{"c":"Switzerland","t":1950,"v":0.159,"l":0.153,"h":0.165},{"c":"Switzerland","t":1951,"v":0.158,"l":0.152,"h":0.164},{"c":"Switzerland","t":1952,"v":0.156,"l":0.150,"h":0.162},{"c":"Switzerland","t":1953,"v":0.153,"l":0.147,"h":0.159},{"c":"Switzerland","t":1954,"v":0.154,"l":0.148,"h":0.160},{"c":"Switzerland","t":1956,"v":0.151,"l":0.145,"h":0.157},{"c":"Switzerland","t":1957,"v":0.151,"l":0.145,"h":0.157},{"c":"Switzerland","t":1958,"v":0.149,"l":0.143,"h":0.155},{"c":"Switzerland","t":1959,"v":0.147,"l":0.141,"h":0.153},{"c":"Switzerland","t":1960,"v":0.146,"l":0.140,"h":0.152},{"c":"Switzerland","t":1962,"v":0.141,"l":0.135,"h":0.147},{"c":"Switzerland","t":1964,"v":0.136,"l":0.130,"h":0.142},{"c":"Switzerland","t":1965,"v":0.139,"l":0.133,"h":0.145},{"c":"Switzerland","t":1967,"v":0.137,"l":0.131,"h":0.143},{"c":"Switzerland","t":1968,"v":0.141,"l":0.135,"h":0.147},{"c":"Switzerland","t":1969,"v":0.149,"l":0.143,"h":0.155},{"c":"Switzerland","t":1970,"v":0.146,"l":0.140,"h":0.152},{"c":"Switzerland","t":1972,"v":0.147,"l":0.141,"h":0.153},{"c":"Switzerland","t":1973,"v":0.144,"l":0.138,"h":0.150},{"c":"Switzerland","t":1974,"v":0.142,"l":0.136,"h":0.148},{"c":"Switzerland","t":1975,"v":0.144,"l":0.138,"h":0.150},{"c":"Switzerland","t":1977,"v":0.142,"l":0.136,"h":0.148},{"c":"Switzerland","t":1978,"v":0.141,"l":0.135,"h":0.147},{"c":"Switzerland","t":1979,"v":0.139,"l":0.133,"h":0.145},{"c":"Switzerland","t":1980,"v":0.141,"l":0.135,"h":0.147},{"c":"Switzerland","t":1981,"v":0.139,"l":0.133,"h":0.145},{"c":"Switzerland","t":1983,"v":0.139,"l":0.133,"h":0.145},{"c":"Switzerland","t":1984,"v":0.136,"l":0.130,"h":0.142},{"c":"Switzerland","t":1985,"v":0.136,"l":0.130,"h":0.142},{"c":"Switzerland","t":1986,"v":0.137,"l":0.131,"h":0.143},{"c":"Switzerland","t":1988,"v":0.141,"l":0.135,"h":0.147},{"c":"Switzerland","t":1989,"v":0.146,"l":0.140,"h":0.152},{"c":"Switzerland","t":1990,"v":0.153,"l":0.147,"h":0.159},{"c":"Switzerland","t":1991,"v":0.154,"l":0.148,"h":0.160},{"c":"Switzerland","t":1992,"v":0.147,"l":0.141,"h":0.153},{"c":"Switzerland","t":1993,"v":0.146,"l":0.140,"h":0.152},{"c":"Switzerland","t":1994,"v":0.139,"l":0.133,"h":0.145},{"c":"Switzerland","t":1995,"v":0.134,"l":0.128,"h":0.140},{"c":"Switzerland","t":1997,"v":0.129,"l":0.123,"h":0.135},{"c":"Switzerland","t":1998,"v":0.125,"l":0.119,"h":0.131},{"c":"Switzerland","t":1999,"v":0.125,"l":0.119,"h":0.131},{"c":"Switzerland","t":2001,"v":0.124,"l":0.118,"h":0.130},{"c":"Switzerland","t":2003,"v":0.124,"l":0.118,"h":0.130},{"c":"Switzerland","t":2004,"v":0.124,"l":0.118,"h":0.130},{"c":"Switzerland","t":2006,"v":0.123,"l":0.117,"h":0.129},{"c":"Switzerland","t":2007,"v":0.122,"l":0.116,"h":0.128},
{"c":"Japan","t":1947,"v":0.329,"l":0.317,"h":0.341},{"c":"Japan","t":1948,"v":0.300,"l":0.288,"h":0.312},{"c":"Japan","t":1949,"v":0.264,"l":0.252,"h":0.276},{"c":"Japan","t":1950,"v":0.235,"l":0.223,"h":0.247},{"c":"Japan","t":1951,"v":0.215,"l":0.203,"h":0.227},{"c":"Japan","t":1952,"v":0.203,"l":0.191,"h":0.215},{"c":"Japan","t":1953,"v":0.198,"l":0.186,"h":0.210},{"c":"Japan","t":1954,"v":0.193,"l":0.181,"h":0.205},{"c":"Japan","t":1955,"v":0.190,"l":0.178,"h":0.202},{"c":"Japan","t":1956,"v":0.187,"l":0.180,"h":0.194},{"c":"Japan","t":1957,"v":0.185,"l":0.178,"h":0.192},{"c":"Japan","t":1958,"v":0.183,"l":0.176,"h":0.190},{"c":"Japan","t":1959,"v":0.179,"l":0.172,"h":0.186},{"c":"Japan","t":1960,"v":0.176,"l":0.169,"h":0.183},{"c":"Japan","t":1961,"v":0.172,"l":0.165,"h":0.179},{"c":"Japan","t":1962,"v":0.168,"l":0.161,"h":0.175},{"c":"Japan","t":1963,"v":0.163,"l":0.156,"h":0.170},{"c":"Japan","t":1964,"v":0.160,"l":0.153,"h":0.167},{"c":"Japan","t":1965,"v":0.159,"l":0.152,"h":0.166},{"c":"Japan","t":1966,"v":0.158,"l":0.151,"h":0.165},{"c":"Japan","t":1967,"v":0.156,"l":0.149,"h":0.163},{"c":"Japan","t":1968,"v":0.154,"l":0.147,"h":0.161},{"c":"Japan","t":1969,"v":0.153,"l":0.146,"h":0.160},{"c":"Japan","t":1970,"v":0.151,"l":0.144,"h":0.158},{"c":"Japan","t":1971,"v":0.149,"l":0.142,"h":0.156},{"c":"Japan","t":1972,"v":0.147,"l":0.140,"h":0.154},{"c":"Japan","t":1973,"v":0.146,"l":0.139,"h":0.153},{"c":"Japan","t":1974,"v":0.143,"l":0.136,"h":0.150},{"c":"Japan","t":1975,"v":0.142,"l":0.135,"h":0.149},{"c":"Japan","t":1976,"v":0.141,"l":0.136,"h":0.146},{"c":"Japan","t":1977,"v":0.140,"l":0.135,"h":0.145},{"c":"Japan","t":1978,"v":0.139,"l":0.134,"h":0.144},{"c":"Japan","t":1979,"v":0.137,"l":0.132,"h":0.142},{"c":"Japan","t":1980,"v":0.135,"l":0.130,"h":0.140},{"c":"Japan","t":1981,"v":0.134,"l":0.129,"h":0.139},{"c":"Japan","t":1982,"v":0.133,"l":0.128,"h":0.138},{"c":"Japan","t":1983,"v":0.131,"l":0.126,"h":0.136},{"c":"Japan","t":1984,"v":0.129,"l":0.124,"h":0.134},{"c":"Japan","t":1985,"v":0.128,"l":0.123,"h":0.133},{"c":"Japan","t":1986,"v":0.127,"l":0.122,"h":0.132},{"c":"Japan","t":1987,"v":0.125,"l":0.120,"h":0.130},{"c":"Japan","t":1988,"v":0.124,"l":0.119,"h":0.129},{"c":"Japan","t":1989,"v":0.122,"l":0.117,"h":0.127},{"c":"Japan","t":1990,"v":0.121,"l":0.116,"h":0.126},{"c":"Japan","t":1991,"v":0.120,"l":0.115,"h":0.125},{"c":"Japan","t":1992,"v":0.119,"l":0.114,"h":0.124},{"c":"Japan","t":1993,"v":0.118,"l":0.113,"h":0.123},{"c":"Japan","t":1994,"v":0.117,"l":0.112,"h":0.122},{"c":"Japan","t":1995,"v":0.116,"l":0.111,"h":0.121},{"c":"Japan","t":1996,"v":0.115,"l":0.110,"h":0.120},{"c":"Japan","t":1997,"v":0.116,"l":0.111,"h":0.121},{"c":"Japan","t":1998,"v":0.117,"l":0.112,"h":0.122},{"c":"Japan","t":1999,"v":0.119,"l":0.114,"h":0.124},{"c":"Japan","t":2000,"v":0.120,"l":0.115,"h":0.125},{"c":"Japan","t":2001,"v":0.120,"l":0.115,"h":0.125},{"c":"Japan","t":2002,"v":0.120,"l":0.115,"h":0.125},{"c":"Japan","t":2003,"v":0.121,"l":0.116,"h":0.126},{"c":"Japan","t":2004,"v":0.122,"l":0.117,"h":0.127},{"c":"Japan","t":2005,"v":0.122,"l":0.117,"h":0.127},{"c":"Japan","t":2006,"v":0.122,"l":0.117,"h":0.127},
{"c":"Chile","t":1992,"v":0.149,"l":0.141,"h":0.157},{"c":"Chile","t":1993,"v":0.146,"l":0.138,"h":0.154},{"c":"Chile","t":1994,"v":0.142,"l":0.134,"h":0.150},{"c":"Chile","t":1995,"v":0.141,"l":0.133,"h":0.149},{"c":"Chile","t":1996,"v":0.140,"l":0.132,"h":0.148},{"c":"Chile","t":1997,"v":0.137,"l":0.129,"h":0.145},{"c":"Chile","t":1998,"v":0.136,"l":0.128,"h":0.144},{"c":"Chile","t":1999,"v":0.139,"l":0.131,"h":0.147},{"c":"Chile","t":2000,"v":0.144,"l":0.136,"h":0.152},{"c":"Chile","t":2001,"v":0.148,"l":0.140,"h":0.156},{"c":"Chile","t":2002,"v":0.150,"l":0.142,"h":0.158},{"c":"Chile","t":2003,"v":0.153,"l":0.145,"h":0.161},{"c":"Chile","t":2004,"v":0.156,"l":0.148,"h":0.164},{"c":"Chile","t":2005,"v":0.159,"l":0.151,"h":0.167}
],
"H": [
{"c":"Sweden","t":1900,"v":0.505,"l":0.483,"h":0.527},{"c":"Sweden","t":1901,"v":0.530,"l":0.508,"h":0.552},{"c":"Sweden","t":1902,"v":0.432,"l":0.410,"h":0.454},{"c":"Sweden","t":1903,"v":0.442,"l":0.420,"h":0.464},{"c":"Sweden","t":1904,"v":0.433,"l":0.411,"h":0.455},{"c":"Sweden","t":1905,"v":0.483,"l":0.461,"h":0.505},{"c":"Sweden","t":1906,"v":0.428,"l":0.406,"h":0.450},{"c":"Sweden","t":1907,"v":0.410,"l":0.388,"h":0.432},{"c":"Sweden","t":1908,"v":0.390,"l":0.368,"h":0.412},{"c":"Sweden","t":1909,"v":0.373,"l":0.351,"h":0.395},{"c":"Sweden","t":1910,"v":0.382,"l":0.360,"h":0.404},{"c":"Sweden","t":1912,"v":0.382,"l":0.360,"h":0.404},{"c":"Sweden","t":1913,"v":0.380,"l":0.358,"h":0.402},{"c":"Sweden","t":1914,"v":0.392,"l":0.370,"h":0.414},{"c":"Sweden","t":1915,"v":0.400,"l":0.378,"h":0.422},{"c":"Sweden","t":1916,"v":0.408,"l":0.386,"h":0.430},{"c":"Sweden","t":1917,"v":0.403,"l":0.381,"h":0.425},{"c":"Sweden","t":1918,"v":0.650,"l":0.630,"h":0.670},{"c":"Sweden","t":1919,"v":0.480,"l":0.468,"h":0.492},{"c":"Sweden","t":1920,"v":0.390,"l":0.378,"h":0.402},{"c":"Sweden","t":1921,"v":0.320,"l":0.308,"h":0.332},{"c":"Sweden","t":1922,"v":0.290,"l":0.278,"h":0.302},{"c":"Sweden","t":1923,"v":0.285,"l":0.273,"h":0.297},{"c":"Sweden","t":1924,"v":0.307,"l":0.295,"h":0.319},{"c":"Sweden","t":1925,"v":0.288,"l":0.276,"h":0.300},{"c":"Sweden","t":1926,"v":0.288,"l":0.276,"h":0.300},{"c":"Sweden","t":1927,"v":0.292,"l":0.280,"h":0.304},{"c":"Sweden","t":1928,"v":0.295,"l":0.283,"h":0.307},{"c":"Sweden","t":1929,"v":0.278,"l":0.266,"h":0.290},{"c":"Sweden","t":1930,"v":0.270,"l":0.258,"h":0.282},{"c":"Sweden","t":1931,"v":0.267,"l":0.255,"h":0.279},{"c":"Sweden","t":1932,"v":0.255,"l":0.243,"h":0.267},{"c":"Sweden","t":1933,"v":0.235,"l":0.223,"h":0.247},{"c":"Sweden","t":1934,"v":0.245,"l":0.233,"h":0.257},{"c":"Sweden","t":1935,"v":0.243,"l":0.231,"h":0.255},{"c":"Sweden","t":1936,"v":0.235,"l":0.223,"h":0.247},{"c":"Sweden","t":1937,"v":0.222,"l":0.210,"h":0.234},{"c":"Sweden","t":1938,"v":0.210,"l":0.198,"h":0.222},{"c":"Sweden","t":1939,"v":0.198,"l":0.186,"h":0.210},{"c":"Sweden","t":1940,"v":0.193,"l":0.181,"h":0.205},{"c":"Sweden","t":1941,"v":0.194,"l":0.182,"h":0.206},{"c":"Sweden","t":1942,"v":0.195,"l":0.183,"h":0.207},{"c":"Sweden","t":1943,"v":0.202,"l":0.190,"h":0.214},{"c":"Sweden","t":1944,"v":0.212,"l":0.200,"h":0.224},{"c":"Sweden","t":1945,"v":0.205,"l":0.193,"h":0.217},{"c":"Sweden","t":1946,"v":0.175,"l":0.170,"h":0.180},{"c":"Sweden","t":1947,"v":0.165,"l":0.160,"h":0.170},{"c":"Sweden","t":1948,"v":0.158,"l":0.153,"h":0.163},{"c":"Sweden","t":1949,"v":0.152,"l":0.147,"h":0.157},{"c":"Sweden","t":1950,"v":0.147,"l":0.142,"h":0.152},{"c":"Sweden","t":1951,"v":0.140,"l":0.135,"h":0.145},{"c":"Sweden","t":1952,"v":0.133,"l":0.128,"h":0.138},{"c":"Sweden","t":1953,"v":0.135,"l":0.130,"h":0.140},{"c":"Sweden","t":1954,"v":0.134,"l":0.129,"h":0.139},{"c":"Sweden","t":1955,"v":0.133,"l":0.128,"h":0.138},{"c":"Sweden","t":1956,"v":0.132,"l":0.127,"h":0.137},{"c":"Sweden","t":1958,"v":0.128,"l":0.123,"h":0.133},{"c":"Sweden","t":1960,"v":0.132,"l":0.127,"h":0.137},{"c":"Sweden","t":1961,"v":0.133,"l":0.128,"h":0.138},{"c":"Sweden","t":1963,"v":0.130,"l":0.125,"h":0.135},{"c":"Sweden","t":1964,"v":0.132,"l":0.127,"h":0.137},{"c":"Sweden","t":1966,"v":0.132,"l":0.127,"h":0.137},{"c":"Sweden","t":1968,"v":0.133,"l":0.128,"h":0.138},{"c":"Sweden","t":1969,"v":0.132,"l":0.127,"h":0.137},{"c":"Sweden","t":1971,"v":0.130,"l":0.125,"h":0.135},{"c":"Sweden","t":1973,"v":0.128,"l":0.123,"h":0.133},{"c":"Sweden","t":1974,"v":0.127,"l":0.122,"h":0.132},{"c":"Sweden","t":1976,"v":0.132,"l":0.127,"h":0.137},{"c":"Sweden","t":1978,"v":0.128,"l":0.123,"h":0.133},{"c":"Sweden","t":1979,"v":0.127,"l":0.122,"h":0.132},{"c":"Sweden","t":1981,"v":0.122,"l":0.117,"h":0.127},{"c":"Sweden","t":1983,"v":0.122,"l":0.117,"h":0.127},{"c":"Sweden","t":1984,"v":0.122,"l":0.117,"h":0.127},{"c":"Sweden","t":1986,"v":0.120,"l":0.115,"h":0.125},{"c":"Sweden","t":1988,"v":0.120,"l":0.115,"h":0.125},{"c":"Sweden","t":1989,"v":0.120,"l":0.115,"h":0.125},{"c":"Sweden","t":1991,"v":0.118,"l":0.113,"h":0.123},{"c":"Sweden","t":1992,"v":0.117,"l":0.112,"h":0.122},{"c":"Sweden","t":1994,"v":0.113,"l":0.108,"h":0.118},{"c":"Sweden","t":1996,"v":0.112,"l":0.107,"h":0.117},{"c":"Sweden","t":1997,"v":0.112,"l":0.107,"h":0.117},{"c":"Sweden","t":1999,"v":0.112,"l":0.107,"h":0.117},{"c":"Sweden","t":2001,"v":0.112,"l":0.107,"h":0.117},{"c":"Sweden","t":2002,"v":0.112,"l":0.107,"h":0.117},{"c":"Sweden","t":2004,"v":0.110,"l":0.105,"h":0.115},{"c":"Sweden","t":2006,"v":0.110,"l":0.105,"h":0.115},{"c":"Sweden","t":2007,"v":0.108,"l":0.103,"h":0.113},
{"c":"Switzerland","t":1896,"v":0.368,"l":0.350,"h":0.386},{"c":"Switzerland","t":1897,"v":0.382,"l":0.364,"h":0.400},{"c":"Switzerland","t":1898,"v":0.375,"l":0.357,"h":0.393},{"c":"Switzerland","t":1899,"v":0.385,"l":0.367,"h":0.403},{"c":"Switzerland","t":1900,"v":0.375,"l":0.357,"h":0.393},{"c":"Switzerland","t":1901,"v":0.370,"l":0.352,"h":0.388},{"c":"Switzerland","t":1902,"v":0.362,"l":0.344,"h":0.380},{"c":"Switzerland","t":1903,"v":0.378,"l":0.360,"h":0.396},{"c":"Switzerland","t":1904,"v":0.400,"l":0.382,"h":0.418},{"c":"Switzerland","t":1905,"v":0.375,"l":0.357,"h":0.393},{"c":"Switzerland","t":1906,"v":0.368,"l":0.350,"h":0.386},{"c":"Switzerland","t":1907,"v":0.355,"l":0.337,"h":0.373},{"c":"Switzerland","t":1908,"v":0.335,"l":0.317,"h":0.353},{"c":"Switzerland","t":1909,"v":0.352,"l":0.334,"h":0.370},{"c":"Switzerland","t":1910,"v":0.345,"l":0.327,"h":0.363},{"c":"Switzerland","t":1911,"v":0.352,"l":0.334,"h":0.370},{"c":"Switzerland","t":1912,"v":0.328,"l":0.310,"h":0.346},{"c":"Switzerland","t":1913,"v":0.317,"l":0.299,"h":0.335},{"c":"Switzerland","t":1914,"v":0.313,"l":0.295,"h":0.331},{"c":"Switzerland","t":1915,"v":0.310,"l":0.292,"h":0.328},{"c":"Switzerland","t":1916,"v":0.307,"l":0.289,"h":0.325},{"c":"Switzerland","t":1917,"v":0.360,"l":0.342,"h":0.378},{"c":"Switzerland","t":1918,"v":0.600,"l":0.580,"h":0.620},{"c":"Switzerland","t":1919,"v":0.400,"l":0.388,"h":0.412},{"c":"Switzerland","t":1920,"v":0.340,"l":0.328,"h":0.352},{"c":"Switzerland","t":1921,"v":0.290,"l":0.278,"h":0.302},{"c":"Switzerland","t":1922,"v":0.272,"l":0.260,"h":0.284},{"c":"Switzerland","t":1923,"v":0.265,"l":0.253,"h":0.277},{"c":"Switzerland","t":1924,"v":0.258,"l":0.246,"h":0.270},{"c":"Switzerland","t":1925,"v":0.268,"l":0.256,"h":0.280},{"c":"Switzerland","t":1926,"v":0.265,"l":0.253,"h":0.277},{"c":"Switzerland","t":1927,"v":0.255,"l":0.243,"h":0.267},{"c":"Switzerland","t":1928,"v":0.275,"l":0.263,"h":0.287},{"c":"Switzerland","t":1929,"v":0.255,"l":0.243,"h":0.267},{"c":"Switzerland","t":1930,"v":0.248,"l":0.236,"h":0.260},{"c":"Switzerland","t":1931,"v":0.248,"l":0.236,"h":0.260},{"c":"Switzerland","t":1932,"v":0.240,"l":0.228,"h":0.252},{"c":"Switzerland","t":1933,"v":0.235,"l":0.223,"h":0.247},{"c":"Switzerland","t":1934,"v":0.241,"l":0.229,"h":0.253},{"c":"Switzerland","t":1935,"v":0.243,"l":0.231,"h":0.255},{"c":"Switzerland","t":1936,"v":0.238,"l":0.226,"h":0.250},{"c":"Switzerland","t":1937,"v":0.232,"l":0.220,"h":0.244},{"c":"Switzerland","t":1938,"v":0.222,"l":0.210,"h":0.234},{"c":"Switzerland","t":1939,"v":0.210,"l":0.198,"h":0.222},{"c":"Switzerland","t":1940,"v":0.212,"l":0.200,"h":0.224},{"c":"Switzerland","t":1941,"v":0.205,"l":0.193,"h":0.217},{"c":"Switzerland","t":1942,"v":0.202,"l":0.190,"h":0.214},{"c":"Switzerland","t":1943,"v":0.203,"l":0.191,"h":0.215},{"c":"Switzerland","t":1944,"v":0.208,"l":0.196,"h":0.220},{"c":"Switzerland","t":1945,"v":0.202,"l":0.190,"h":0.214},{"c":"Switzerland","t":1946,"v":0.195,"l":0.189,"h":0.201},{"c":"Switzerland","t":1947,"v":0.180,"l":0.174,"h":0.186},{"c":"Switzerland","t":1948,"v":0.160,"l":0.154,"h":0.166},{"c":"Switzerland","t":1949,"v":0.152,"l":0.146,"h":0.158},{"c":"Switzerland","t":1950,"v":0.147,"l":0.141,"h":0.153},{"c":"Switzerland","t":1951,"v":0.145,"l":0.139,"h":0.151},{"c":"Switzerland","t":1952,"v":0.143,"l":0.137,"h":0.149},{"c":"Switzerland","t":1953,"v":0.140,"l":0.134,"h":0.146},{"c":"Switzerland","t":1954,"v":0.138,"l":0.132,"h":0.144},{"c":"Switzerland","t":1955,"v":0.136,"l":0.130,"h":0.142},{"c":"Switzerland","t":1956,"v":0.135,"l":0.129,"h":0.141},{"c":"Switzerland","t":1957,"v":0.133,"l":0.127,"h":0.139},{"c":"Switzerland","t":1958,"v":0.130,"l":0.124,"h":0.136},{"c":"Switzerland","t":1959,"v":0.128,"l":0.122,"h":0.134},{"c":"Switzerland","t":1960,"v":0.133,"l":0.127,"h":0.139},{"c":"Switzerland","t":1962,"v":0.132,"l":0.126,"h":0.138},{"c":"Switzerland","t":1963,"v":0.129,"l":0.123,"h":0.135},{"c":"Switzerland","t":1964,"v":0.122,"l":0.116,"h":0.128},{"c":"Switzerland","t":1965,"v":0.130,"l":0.124,"h":0.136},{"c":"Switzerland","t":1967,"v":0.132,"l":0.126,"h":0.138},{"c":"Switzerland","t":1968,"v":0.128,"l":0.122,"h":0.134},{"c":"Switzerland","t":1969,"v":0.127,"l":0.121,"h":0.133},{"c":"Switzerland","t":1970,"v":0.130,"l":0.124,"h":0.136},{"c":"Switzerland","t":1971,"v":0.132,"l":0.126,"h":0.138},{"c":"Switzerland","t":1973,"v":0.130,"l":0.124,"h":0.136},{"c":"Switzerland","t":1974,"v":0.127,"l":0.121,"h":0.133},{"c":"Switzerland","t":1976,"v":0.130,"l":0.124,"h":0.136},{"c":"Switzerland","t":1977,"v":0.128,"l":0.122,"h":0.134},{"c":"Switzerland","t":1979,"v":0.130,"l":0.124,"h":0.136},{"c":"Switzerland","t":1981,"v":0.132,"l":0.126,"h":0.138},{"c":"Switzerland","t":1982,"v":0.130,"l":0.124,"h":0.136},{"c":"Switzerland","t":1984,"v":0.127,"l":0.121,"h":0.133},{"c":"Switzerland","t":1986,"v":0.128,"l":0.122,"h":0.134},{"c":"Switzerland","t":1987,"v":0.127,"l":0.121,"h":0.133},{"c":"Switzerland","t":1989,"v":0.125,"l":0.119,"h":0.131},{"c":"Switzerland","t":1991,"v":0.125,"l":0.119,"h":0.131},{"c":"Switzerland","t":1992,"v":0.123,"l":0.117,"h":0.129},{"c":"Switzerland","t":1994,"v":0.123,"l":0.117,"h":0.129},{"c":"Switzerland","t":1995,"v":0.121,"l":0.115,"h":0.127},{"c":"Switzerland","t":1996,"v":0.120,"l":0.114,"h":0.126},{"c":"Switzerland","t":1997,"v":0.118,"l":0.112,"h":0.124},{"c":"Switzerland","t":1999,"v":0.118,"l":0.112,"h":0.124},{"c":"Switzerland","t":2000,"v":0.117,"l":0.111,"h":0.123},{"c":"Switzerland","t":2002,"v":0.118,"l":0.112,"h":0.124},{"c":"Switzerland","t":2004,"v":0.117,"l":0.111,"h":0.123},{"c":"Switzerland","t":2005,"v":0.117,"l":0.111,"h":0.123},{"c":"Switzerland","t":2007,"v":0.115,"l":0.109,"h":0.121},
{"c":"Japan","t":1947,"v":0.345,"l":0.333,"h":0.357},{"c":"Japan","t":1948,"v":0.310,"l":0.298,"h":0.322},{"c":"Japan","t":1949,"v":0.280,"l":0.268,"h":0.292},{"c":"Japan","t":1950,"v":0.245,"l":0.233,"h":0.257},{"c":"Japan","t":1951,"v":0.215,"l":0.203,"h":0.227},{"c":"Japan","t":1952,"v":0.202,"l":0.190,"h":0.214},{"c":"Japan","t":1953,"v":0.193,"l":0.181,"h":0.205},{"c":"Japan","t":1954,"v":0.189,"l":0.177,"h":0.201},{"c":"Japan","t":1955,"v":0.185,"l":0.173,"h":0.197},{"c":"Japan","t":1956,"v":0.182,"l":0.175,"h":0.189},{"c":"Japan","t":1957,"v":0.180,"l":0.173,"h":0.187},{"c":"Japan","t":1958,"v":0.175,"l":0.168,"h":0.182},{"c":"Japan","t":1959,"v":0.168,"l":0.161,"h":0.175},{"c":"Japan","t":1960,"v":0.162,"l":0.155,"h":0.169},{"c":"Japan","t":1961,"v":0.156,"l":0.149,"h":0.163},{"c":"Japan","t":1962,"v":0.151,"l":0.144,"h":0.158},{"c":"Japan","t":1963,"v":0.147,"l":0.140,"h":0.154},{"c":"Japan","t":1964,"v":0.144,"l":0.137,"h":0.151},{"c":"Japan","t":1965,"v":0.142,"l":0.135,"h":0.149},{"c":"Japan","t":1966,"v":0.140,"l":0.133,"h":0.147},{"c":"Japan","t":1967,"v":0.139,"l":0.132,"h":0.146},{"c":"Japan","t":1968,"v":0.137,"l":0.130,"h":0.144},{"c":"Japan","t":1969,"v":0.135,"l":0.128,"h":0.142},{"c":"Japan","t":1970,"v":0.134,"l":0.127,"h":0.141},{"c":"Japan","t":1971,"v":0.133,"l":0.126,"h":0.140},{"c":"Japan","t":1972,"v":0.132,"l":0.125,"h":0.139},{"c":"Japan","t":1973,"v":0.130,"l":0.123,"h":0.137},{"c":"Japan","t":1974,"v":0.128,"l":0.121,"h":0.135},{"c":"Japan","t":1975,"v":0.127,"l":0.120,"h":0.134},{"c":"Japan","t":1976,"v":0.127,"l":0.122,"h":0.132},{"c":"Japan","t":1977,"v":0.125,"l":0.120,"h":0.130},{"c":"Japan","t":1978,"v":0.124,"l":0.119,"h":0.129},{"c":"Japan","t":1979,"v":0.123,"l":0.118,"h":0.128},{"c":"Japan","t":1980,"v":0.122,"l":0.117,"h":0.127},{"c":"Japan","t":1982,"v":0.122,"l":0.117,"h":0.127},{"c":"Japan","t":1984,"v":0.120,"l":0.115,"h":0.125},{"c":"Japan","t":1986,"v":0.120,"l":0.115,"h":0.125},{"c":"Japan","t":1988,"v":0.118,"l":0.113,"h":0.123},{"c":"Japan","t":1990,"v":0.117,"l":0.112,"h":0.122},{"c":"Japan","t":1992,"v":0.117,"l":0.112,"h":0.122},{"c":"Japan","t":1994,"v":0.115,"l":0.110,"h":0.120},{"c":"Japan","t":1996,"v":0.116,"l":0.111,"h":0.121},{"c":"Japan","t":1998,"v":0.117,"l":0.112,"h":0.122},{"c":"Japan","t":2000,"v":0.117,"l":0.112,"h":0.122},{"c":"Japan","t":2002,"v":0.118,"l":0.113,"h":0.123},{"c":"Japan","t":2004,"v":0.120,"l":0.115,"h":0.125},{"c":"Japan","t":2006,"v":0.120,"l":0.115,"h":0.125},
{"c":"Chile","t":1992,"v":0.113,"l":0.109,"h":0.117},{"c":"Chile","t":1993,"v":0.117,"l":0.113,"h":0.121},{"c":"Chile","t":1994,"v":0.113,"l":0.109,"h":0.117},{"c":"Chile","t":1995,"v":0.112,"l":0.108,"h":0.116},{"c":"Chile","t":1996,"v":0.114,"l":0.110,"h":0.118},{"c":"Chile","t":1997,"v":0.112,"l":0.108,"h":0.116},{"c":"Chile","t":1998,"v":0.110,"l":0.106,"h":0.114},{"c":"Chile","t":1999,"v":0.112,"l":0.108,"h":0.116},{"c":"Chile","t":2000,"v":0.113,"l":0.109,"h":0.117},{"c":"Chile","t":2001,"v":0.110,"l":0.106,"h":0.114},{"c":"Chile","t":2002,"v":0.113,"l":0.109,"h":0.117},{"c":"Chile","t":2003,"v":0.111,"l":0.107,"h":0.115},{"c":"Chile","t":2004,"v":0.112,"l":0.108,"h":0.116}
]
},
"spacing": 20,
"resolve": {"scale": {"color": "independent", "strokeDash": "independent", "fill": "independent"}},
"vconcat": [
{"hconcat": [
 {"width": 468, "height": 427, "title": {"text": "Males"}, "data": {"name": "E"},
  "layer": [
   {"mark": {"type": "area", "fillOpacity": 0.2, "clip": true},
    "encoding": {
     "x": {"field": "t", "type": "quantitative", "scale": {"domain": [1896.2, 2010.95], "nice": false, "zero": false}, "axis": {"values": [1900,1920,1940,1960,1980,2000], "format": "d", "title": "year", "labelPadding": 23, "titlePadding": 32}},
     "y": {"field": "l", "type": "quantitative", "scale": {"domain": [0.0128, 0.2073], "nice": false, "zero": false}, "axis": {"values": [0.05,0.1,0.15,0.2], "format": ".2f", "labelAngle": -90, "labelAlign": "center", "labelBaseline": "alphabetic", "labelPadding": 15, "title": "λ", "titleAngle": 0, "titleX": -82, "titleY": 180, "titleAlign": "center", "titleBaseline": "middle", "titleFont": "Liberation Serif", "titleFontStyle": "italic", "titleFontSize": 48, "titleColor": "black"}},
     "y2": {"field": "h"},
     "fill": {"field": "c", "type": "nominal", "scale": {"domain": ["Chile","Japan","Switzerland","Sweden"], "range": ["#3333ff","#22ee22","#ff3333","#808080"]}, "legend": null}
    }},
   {"mark": {"type": "line", "strokeWidth": 1.4, "clip": true},
    "encoding": {
     "x": {"field": "t", "type": "quantitative"},
     "y": {"field": "v", "type": "quantitative"},
     "color": {"field": "c", "type": "nominal", "scale": {"domain": ["Sweden","Switzerland","Japan","Chile"], "range": ["#222222","#ff0000","#00cc00","#0000ff"]}, "legend": {"orient": "none", "legendX": 40, "legendY": 71, "title": null, "symbolType": "M-2,0H2", "symbolSize": 100, "symbolStrokeWidth": 1.5, "labelFontSize": 13.5, "labelOffset": 16, "rowPadding": 2.7}},
     "strokeDash": {"field": "c", "type": "nominal", "scale": {"domain": ["Sweden","Switzerland","Japan","Chile"], "range": [[1,0],[5,4],[1.5,3.5],[1.5,3.5,5,3.5]]}, "legend": {"orient": "none", "legendX": 40, "legendY": 71, "title": null, "symbolType": "M-2,0H2", "symbolSize": 100, "symbolStrokeWidth": 1.5, "labelFontSize": 13.5, "labelOffset": 16, "rowPadding": 2.7}}
    }},
   {"data": {"values": [{"lab": "E", "t": 1998.5, "v": 0.185}]},
    "mark": {"type": "text", "font": "Liberation Serif", "fontSize": 32, "color": "black", "align": "center", "baseline": "middle"},
    "encoding": {"x": {"field": "t", "type": "quantitative"}, "y": {"field": "v", "type": "quantitative"}, "text": {"field": "lab"}}}
  ]},
 {"width": 461, "height": 437, "title": {"text": "Females"}, "data": {"name": "F"},
  "layer": [
   {"mark": {"type": "area", "fillOpacity": 0.2, "clip": true},
    "encoding": {
     "x": {"field": "t", "type": "quantitative", "scale": {"domain": [1895.8, 2007.6], "nice": false, "zero": false}, "axis": {"values": [1900,1920,1940,1960,1980,2000], "format": "d", "title": "year", "labelPadding": 23, "titlePadding": 32}},
     "y": {"field": "l", "type": "quantitative", "scale": {"domain": [0.0129, 0.2074], "nice": false, "zero": false}, "axis": {"values": [0.05,0.1,0.15,0.2], "format": ".2f", "labelAngle": -90, "labelAlign": "center", "labelBaseline": "alphabetic", "labelPadding": 15, "title": null}},
     "y2": {"field": "h"},
     "fill": {"field": "c", "type": "nominal", "scale": {"domain": ["Chile","Japan","Switzerland","Sweden"], "range": ["#3333ff","#22ee22","#ff3333","#808080"]}, "legend": null}
    }},
   {"mark": {"type": "line", "strokeWidth": 1.4, "clip": true},
    "encoding": {
     "x": {"field": "t", "type": "quantitative"},
     "y": {"field": "v", "type": "quantitative"},
     "color": {"field": "c", "type": "nominal", "scale": {"domain": ["Sweden","Switzerland","Japan","Chile"], "range": ["#222222","#ff0000","#00cc00","#0000ff"]}, "legend": {"orient": "none", "legendX": 38, "legendY": 73, "title": null, "symbolType": "M-2.5,0H2.5", "symbolSize": 121, "symbolStrokeWidth": 1.5, "labelFontSize": 14, "labelOffset": 19, "rowPadding": 4}},
     "strokeDash": {"field": "c", "type": "nominal", "scale": {"domain": ["Sweden","Switzerland","Japan","Chile"], "range": [[1,0],[5,4],[1.5,3.5],[1.5,3.5,5,3.5]]}, "legend": {"orient": "none", "legendX": 38, "legendY": 73, "title": null, "symbolType": "M-2.5,0H2.5", "symbolSize": 121, "symbolStrokeWidth": 1.5, "labelFontSize": 14, "labelOffset": 19, "rowPadding": 4}}
    }},
   {"data": {"values": [{"lab": "F", "t": 1980.2, "v": 0.177}]},
    "mark": {"type": "text", "font": "Liberation Serif", "fontSize": 32, "color": "black", "align": "center", "baseline": "middle"},
    "encoding": {"x": {"field": "t", "type": "quantitative"}, "y": {"field": "v", "type": "quantitative"}, "text": {"field": "lab"}}}
  ]}
 ], "spacing": 13,
 "resolve": {"scale": {"color": "independent", "strokeDash": "independent", "fill": "independent"}}},
{"hconcat": [
 {"width": 468, "height": 423, "title": {"text": "Males"}, "data": {"name": "G"},
  "layer": [
   {"mark": {"type": "area", "fillOpacity": 0.2, "clip": true},
    "encoding": {
     "x": {"field": "t", "type": "quantitative", "scale": {"domain": [1894.9, 2010.2], "nice": false, "zero": false}, "axis": {"values": [1900,1920,1940,1960,1980,2000], "format": "d", "title": "year", "labelPadding": 23, "titlePadding": 32}},
     "y": {"field": "l", "type": "quantitative", "scale": {"domain": [0.0868, 0.517], "nice": false, "zero": false}, "axis": {"values": [0.1,0.2,0.3,0.4,0.5], "format": ".1f", "labelAngle": -90, "labelAlign": "center", "labelBaseline": "alphabetic", "labelPadding": 19, "title": "β", "titleAngle": 0, "titleX": -80, "titleY": 214, "titleAlign": "center", "titleBaseline": "middle", "titleFont": "Liberation Serif", "titleFontStyle": "italic", "titleFontSize": 48, "titleColor": "black"}},
     "y2": {"field": "h"},
     "fill": {"field": "c", "type": "nominal", "scale": {"domain": ["Chile","Japan","Switzerland","Sweden"], "range": ["#3333ff","#22ee22","#ff3333","#808080"]}, "legend": null}
    }},
   {"mark": {"type": "line", "strokeWidth": 1.4, "clip": true},
    "encoding": {
     "x": {"field": "t", "type": "quantitative"},
     "y": {"field": "v", "type": "quantitative"},
     "color": {"field": "c", "type": "nominal", "scale": {"domain": ["Sweden","Switzerland","Japan","Chile"], "range": ["#222222","#ff0000","#00cc00","#0000ff"]}, "legend": {"orient": "none", "legendX": 40, "legendY": 321, "title": null, "symbolType": "M-2.5,0H2.5", "symbolSize": 121, "symbolStrokeWidth": 1.5, "labelFontSize": 14, "labelOffset": 20, "rowPadding": 3.5}},
     "strokeDash": {"field": "c", "type": "nominal", "scale": {"domain": ["Sweden","Switzerland","Japan","Chile"], "range": [[1,0],[5,4],[1.5,3.5],[1.5,3.5,5,3.5]]}, "legend": {"orient": "none", "legendX": 40, "legendY": 321, "title": null, "symbolType": "M-2.5,0H2.5", "symbolSize": 121, "symbolStrokeWidth": 1.5, "labelFontSize": 14, "labelOffset": 20, "rowPadding": 3.5}}
    }},
   {"data": {"values": [{"lab": "G", "t": 1996.4, "v": 0.441}]},
    "mark": {"type": "text", "font": "Liberation Serif", "fontSize": 32, "color": "black", "align": "center", "baseline": "middle"},
    "encoding": {"x": {"field": "t", "type": "quantitative"}, "y": {"field": "v", "type": "quantitative"}, "text": {"field": "lab"}}}
  ]},
 {"width": 461, "height": 423, "title": {"text": "Females"}, "data": {"name": "H"},
  "layer": [
   {"mark": {"type": "area", "fillOpacity": 0.2, "clip": true},
    "encoding": {
     "x": {"field": "t", "type": "quantitative", "scale": {"domain": [1895.6, 2009.4], "nice": false, "zero": false}, "axis": {"values": [1900,1920,1940,1960,1980,2000], "format": "d", "title": "year", "labelPadding": 23, "titlePadding": 32}},
     "y": {"field": "l", "type": "quantitative", "scale": {"domain": [0.0937, 0.5167], "nice": false, "zero": false}, "axis": {"values": [0.1,0.2,0.3,0.4,0.5], "format": ".1f", "labelAngle": -90, "labelAlign": "center", "labelBaseline": "alphabetic", "labelPadding": 15, "title": null}},
     "y2": {"field": "h"},
     "fill": {"field": "c", "type": "nominal", "scale": {"domain": ["Chile","Japan","Switzerland","Sweden"], "range": ["#3333ff","#22ee22","#ff3333","#808080"]}, "legend": null}
    }},
   {"mark": {"type": "line", "strokeWidth": 1.4, "clip": true},
    "encoding": {
     "x": {"field": "t", "type": "quantitative"},
     "y": {"field": "v", "type": "quantitative"},
     "color": {"field": "c", "type": "nominal", "scale": {"domain": ["Sweden","Switzerland","Japan","Chile"], "range": ["#222222","#ff0000","#00cc00","#0000ff"]}, "legend": {"orient": "none", "legendX": 38, "legendY": 331, "title": null, "symbolType": "M-2.5,0H2.5", "symbolSize": 121, "symbolStrokeWidth": 1.5, "labelFontSize": 14, "labelOffset": 19, "rowPadding": 4}},
     "strokeDash": {"field": "c", "type": "nominal", "scale": {"domain": ["Sweden","Switzerland","Japan","Chile"], "range": [[1,0],[5,4],[1.5,3.5],[1.5,3.5,5,3.5]]}, "legend": {"orient": "none", "legendX": 38, "legendY": 331, "title": null, "symbolType": "M-2.5,0H2.5", "symbolSize": 121, "symbolStrokeWidth": 1.5, "labelFontSize": 14, "labelOffset": 19, "rowPadding": 4}}
    }},
   {"data": {"values": [{"lab": "H", "t": 1995.6, "v": 0.447}]},
    "mark": {"type": "text", "font": "Liberation Serif", "fontSize": 32, "color": "black", "align": "center", "baseline": "middle"},
    "encoding": {"x": {"field": "t", "type": "quantitative"}, "y": {"field": "v", "type": "quantitative"}, "text": {"field": "lab"}}}
  ]}
 ], "spacing": 16,
 "resolve": {"scale": {"color": "independent", "strokeDash": "independent", "fill": "independent"}}}
]
}
